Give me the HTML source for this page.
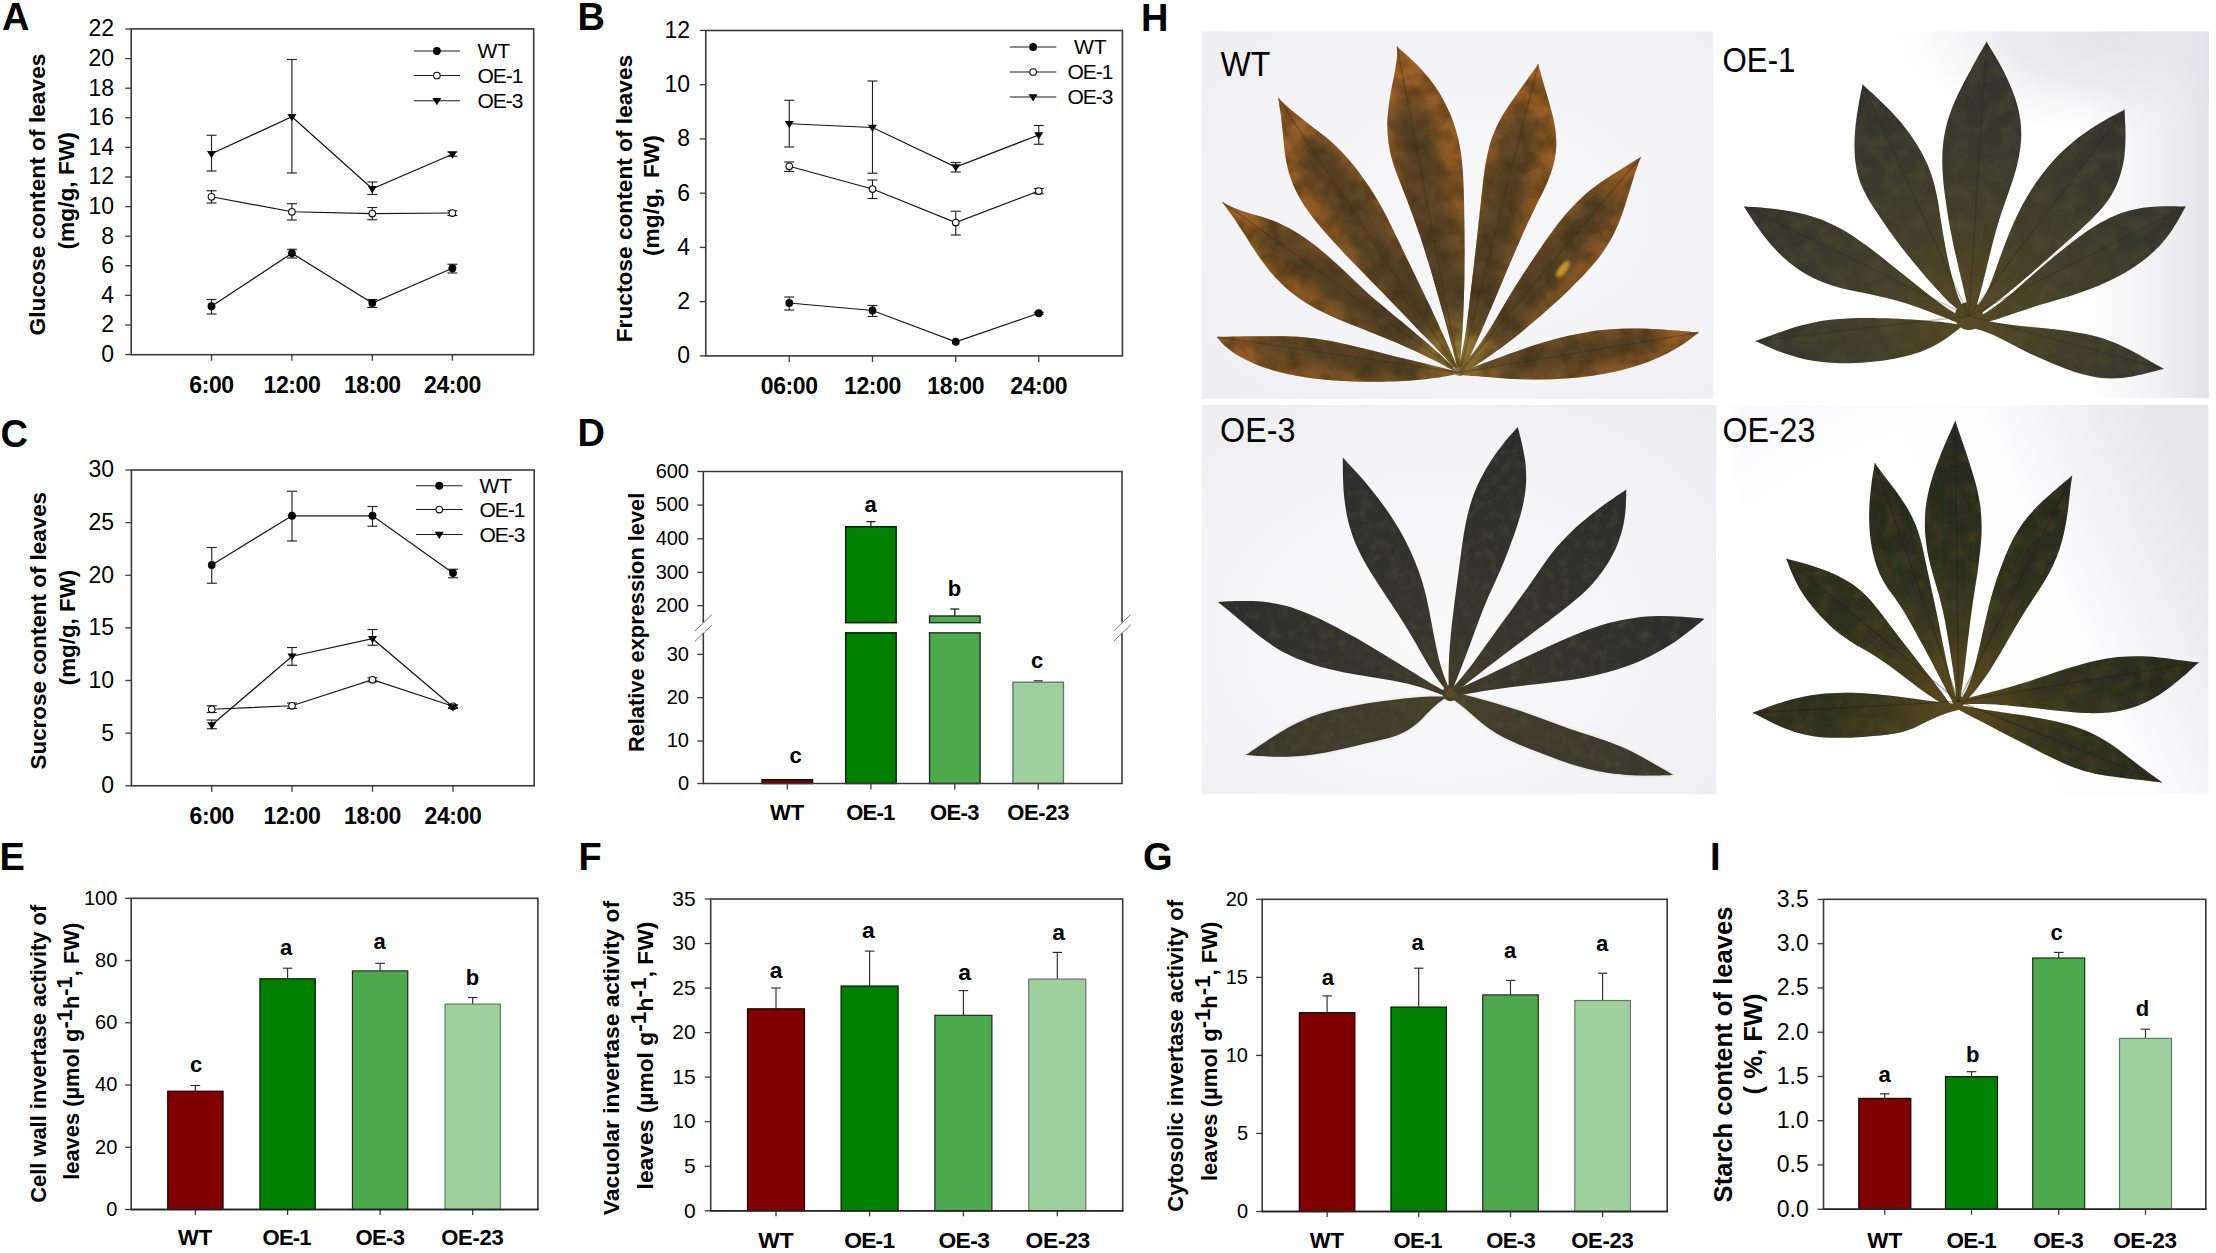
<!DOCTYPE html>
<html lang="en"><head><meta charset="utf-8"><title>Figure</title>
<style>html,body{margin:0;padding:0;background:#fff;}body{width:2216px;height:1253px;overflow:hidden;font-family:"Liberation Sans",sans-serif;}svg{display:block;}text{font-family:"Liberation Sans",sans-serif;}</style>
</head><body>
<svg width="2216" height="1253" viewBox="0 0 2216 1253" font-family="Liberation Sans, sans-serif">
<defs><filter id="tex" x="-2%" y="-2%" width="104%" height="104%" color-interpolation-filters="sRGB">
<feTurbulence type="fractalNoise" baseFrequency="0.05" numOctaves="3" seed="7" result="n"/>
<feColorMatrix in="n" type="matrix" values="0 0 0 0 0  0 0 0 0 0  0 0 0 0 0  1.1 0 0 0 -0.38" result="na"/>
<feFlood flood-color="#33280f" result="dk"/>
<feComposite in="dk" in2="na" operator="in" result="dkn"/>
<feComposite in="dkn" in2="SourceAlpha" operator="in" result="dkm"/>
<feMerge result="m"><feMergeNode in="SourceGraphic"/><feMergeNode in="dkm"/></feMerge>
<feGaussianBlur in="m" stdDeviation="0.7"/>
</filter><filter id="texd" x="-2%" y="-2%" width="104%" height="104%" color-interpolation-filters="sRGB">
<feTurbulence type="fractalNoise" baseFrequency="0.1" numOctaves="3" seed="3" result="n"/>
<feColorMatrix in="n" type="matrix" values="0 0 0 0 0  0 0 0 0 0  0 0 0 0 0  0.8 0 0 0 -0.36" result="na"/>
<feFlood flood-color="#5a5a48" result="dk"/>
<feComposite in="dk" in2="na" operator="in" result="dkn"/>
<feComposite in="dkn" in2="SourceAlpha" operator="in" result="dkm"/>
<feMerge result="m"><feMergeNode in="SourceGraphic"/><feMergeNode in="dkm"/></feMerge>
<feGaussianBlur in="m" stdDeviation="0.7"/>
</filter><filter id="texb" x="-2%" y="-2%" width="104%" height="104%" color-interpolation-filters="sRGB">
<feTurbulence type="fractalNoise" baseFrequency="0.06" numOctaves="3" seed="5" result="n"/>
<feColorMatrix in="n" type="matrix" values="0 0 0 0 0  0 0 0 0 0  0 0 0 0 0  0.8 0 0 0 -0.3" result="na"/>
<feFlood flood-color="#5c5638" result="dk"/>
<feComposite in="dk" in2="na" operator="in" result="dkn"/>
<feComposite in="dkn" in2="SourceAlpha" operator="in" result="dkm"/>
<feMerge result="m"><feMergeNode in="SourceGraphic"/><feMergeNode in="dkm"/></feMerge>
<feGaussianBlur in="m" stdDeviation="0.7"/>
</filter><filter id="texo" x="-2%" y="-2%" width="104%" height="104%" color-interpolation-filters="sRGB">
<feTurbulence type="fractalNoise" baseFrequency="0.06" numOctaves="3" seed="11" result="n"/>
<feColorMatrix in="n" type="matrix" values="0 0 0 0 0  0 0 0 0 0  0 0 0 0 0  0.85 0 0 0 -0.36" result="na"/>
<feFlood flood-color="#5c5220" result="dk"/>
<feComposite in="dk" in2="na" operator="in" result="dkn"/>
<feComposite in="dkn" in2="SourceAlpha" operator="in" result="dkm"/>
<feMerge result="m"><feMergeNode in="SourceGraphic"/><feMergeNode in="dkm"/></feMerge>
<feGaussianBlur in="m" stdDeviation="0.5"/>
</filter><filter id="bl2"><feGaussianBlur stdDeviation="1.6"/></filter>
<radialGradient id="bgWT" cx="0.55" cy="0.5" r="0.8"><stop offset="0" stop-color="#f8f8fa"/><stop offset="0.6" stop-color="#f3f3f6"/><stop offset="1" stop-color="#ececf1"/></radialGradient>
<linearGradient id="bgO1" x1="0.35" y1="0.7" x2="1" y2="0.2"><stop offset="0" stop-color="#ffffff"/><stop offset="0.5" stop-color="#fdfdfe"/><stop offset="0.8" stop-color="#eeeef2"/><stop offset="1" stop-color="#e0e0e6"/></linearGradient>
<radialGradient id="bgO3" cx="0.45" cy="0.6" r="0.8"><stop offset="0" stop-color="#f9f9fa"/><stop offset="0.6" stop-color="#f4f4f6"/><stop offset="1" stop-color="#ebebf0"/></radialGradient>
<linearGradient id="bgO23" x1="0.3" y1="0.6" x2="1" y2="0.35"><stop offset="0" stop-color="#ffffff"/><stop offset="0.55" stop-color="#fcfcfd"/><stop offset="0.82" stop-color="#f0f0f4"/><stop offset="1" stop-color="#e6e6eb"/></linearGradient>
<linearGradient id="bgO23b" x1="0" y1="0" x2="0.4" y2="0.5"><stop offset="0" stop-color="#e6e6f0"/><stop offset="1" stop-color="#e6e6f0" stop-opacity="0"/></linearGradient>
<radialGradient id="o1top" gradientUnits="userSpaceOnUse" cx="2120" cy="31.5" r="1" gradientTransform="translate(2120 31.5) scale(230 105) translate(-2120 -31.5)"><stop offset="0" stop-color="#e3e3e8"/><stop offset="0.5" stop-color="#e8e8ec" stop-opacity="0.8"/><stop offset="1" stop-color="#f4f4f6" stop-opacity="0"/></radialGradient>
<linearGradient id="o1right" x1="0" y1="0" x2="1" y2="0"><stop offset="0" stop-color="#e6e6eb" stop-opacity="0"/><stop offset="0.6" stop-color="#e8e8ed" stop-opacity="0.6"/><stop offset="1" stop-color="#e2e2e8"/></linearGradient>
<linearGradient id="fadeL" x1="0" y1="0" x2="1" y2="0"><stop offset="0" stop-color="#fff"/><stop offset="1" stop-color="#fff" stop-opacity="0"/></linearGradient>
<radialGradient id="gWT" gradientUnits="userSpaceOnUse" cx="1455" cy="345" r="310"><stop offset="0" stop-color="#8f7838"/><stop offset="0.08" stop-color="#86682f"/><stop offset="0.2" stop-color="#7c5627"/><stop offset="0.5" stop-color="#8c5925"/><stop offset="0.8" stop-color="#995f27"/><stop offset="1" stop-color="#a2662a"/></radialGradient>
<radialGradient id="gO1" gradientUnits="userSpaceOnUse" cx="1969" cy="316" r="240"><stop offset="0" stop-color="#55491f"/><stop offset="0.25" stop-color="#484226"/><stop offset="0.55" stop-color="#3d3b2b"/><stop offset="1" stop-color="#33332d"/></radialGradient>
<radialGradient id="gO3" gradientUnits="userSpaceOnUse" cx="1450" cy="693" r="260"><stop offset="0" stop-color="#423d28"/><stop offset="0.3" stop-color="#36352d"/><stop offset="1" stop-color="#2c2d2c"/></radialGradient>
<radialGradient id="gO23" gradientUnits="userSpaceOnUse" cx="1958" cy="701" r="260"><stop offset="0" stop-color="#5a4a1c"/><stop offset="0.22" stop-color="#464020"/><stop offset="0.5" stop-color="#343420"/><stop offset="1" stop-color="#272820"/></radialGradient>
<clipPath id="cWT"><path d="M1452.7 370.2C1449.4 369.4 1439.9 367.1 1432.8 365.4C1425.7 363.7 1418.1 361.9 1410.3 360.0C1402.4 358.1 1394.0 356.0 1385.7 353.9C1377.4 351.9 1368.9 349.7 1360.5 347.7C1352.2 345.7 1343.8 343.6 1335.4 342.0C1327.0 340.3 1318.8 338.9 1310.3 338.0C1301.7 337.0 1293.5 336.6 1284.0 336.3C1274.5 336.0 1264.4 336.2 1253.2 336.3C1242.0 336.4 1222.8 336.8 1216.8 336.9C1218.2 338.5 1221.7 343.1 1225.6 346.4C1229.5 349.7 1233.8 353.3 1240.1 356.8C1246.3 360.2 1254.1 364.0 1263.2 367.2C1272.4 370.3 1283.1 373.3 1294.8 375.5C1306.5 377.8 1319.8 379.5 1333.5 380.5C1347.2 381.6 1363.1 381.9 1377.0 381.8C1390.9 381.7 1405.8 380.9 1417.2 380.0C1428.5 379.1 1437.5 377.7 1444.8 376.5C1452.2 375.3 1458.4 373.3 1461.1 372.7Z"/><path d="M1452.7 366.0C1450.4 363.9 1443.6 357.7 1439.1 353.6C1434.5 349.6 1430.1 345.6 1425.4 341.5C1420.6 337.4 1415.6 333.2 1410.4 328.9C1405.2 324.6 1399.6 320.2 1394.0 315.6C1388.5 311.1 1382.9 306.4 1377.3 301.6C1371.7 296.7 1366.1 291.7 1360.5 286.5C1355.0 281.3 1349.4 275.8 1343.8 270.6C1338.2 265.4 1332.6 260.0 1327.0 255.2C1321.4 250.4 1315.9 245.9 1310.3 241.8C1304.7 237.7 1299.0 234.0 1293.5 230.8C1288.0 227.5 1282.4 224.7 1277.1 222.3C1271.8 220.0 1266.7 218.3 1261.7 216.7C1256.8 215.1 1252.1 214.1 1247.6 212.7C1243.0 211.3 1238.6 209.9 1234.4 208.1C1230.1 206.3 1224.2 203.0 1222.1 202.0C1224.0 204.5 1229.5 211.9 1233.2 217.3C1236.9 222.7 1240.3 228.0 1244.4 234.3C1248.5 240.5 1252.7 247.8 1257.8 254.9C1262.9 262.0 1268.6 270.1 1274.9 276.9C1281.2 283.7 1288.2 290.2 1295.6 295.8C1302.9 301.3 1310.9 306.0 1319.0 310.3C1327.0 314.6 1335.5 318.1 1343.8 321.6C1352.1 325.1 1360.6 328.1 1368.9 331.4C1377.2 334.7 1385.7 338.0 1393.6 341.4C1401.6 344.8 1409.4 348.4 1416.6 351.7C1423.7 355.1 1430.3 358.4 1436.6 361.6C1442.9 364.9 1451.4 369.5 1454.4 371.0Z"/><path d="M1454.4 367.7C1452.1 365.2 1445.2 357.7 1440.5 352.7C1435.8 347.8 1431.1 342.9 1426.1 337.7C1421.1 332.5 1415.9 327.2 1410.3 321.4C1404.8 315.7 1398.9 309.5 1392.8 303.3C1386.7 297.0 1380.2 290.4 1373.8 283.8C1367.4 277.2 1360.8 270.5 1354.4 263.8C1347.9 257.1 1341.3 250.3 1335.1 243.5C1328.8 236.6 1322.4 229.6 1316.8 222.5C1311.2 215.4 1305.7 208.2 1301.4 201.0C1297.1 193.8 1293.6 186.5 1291.0 179.3C1288.3 172.0 1286.9 164.8 1285.6 157.7C1284.3 150.6 1283.9 143.4 1283.2 136.6C1282.4 129.8 1281.9 123.2 1281.1 116.7C1280.2 110.3 1278.7 101.0 1278.2 97.9C1280.7 100.2 1288.0 107.1 1293.2 111.6C1298.4 116.0 1303.9 120.1 1309.3 124.4C1314.8 128.6 1320.5 132.6 1325.8 137.0C1331.0 141.4 1336.1 146.0 1340.9 150.9C1345.6 155.7 1350.1 161.0 1354.3 166.3C1358.5 171.5 1362.4 176.9 1366.2 182.4C1370.0 187.8 1373.5 193.2 1377.0 199.2C1380.6 205.1 1383.9 211.3 1387.3 217.9C1390.7 224.5 1394.0 231.7 1397.4 238.6C1400.8 245.6 1404.1 252.9 1407.5 259.8C1410.8 266.7 1414.2 273.7 1417.4 280.3C1420.6 287.0 1423.9 293.6 1426.8 299.8C1429.8 306.0 1432.6 311.9 1435.2 317.5C1437.8 323.1 1440.0 328.0 1442.4 333.3C1444.9 338.6 1447.2 343.7 1449.7 349.4C1452.3 355.2 1456.4 364.6 1457.7 367.7Z"/><path d="M1456.9 366.0C1456.1 363.0 1453.9 354.0 1452.4 348.2C1450.9 342.5 1449.5 337.2 1447.9 331.3C1446.4 325.5 1444.8 319.7 1443.0 313.3C1441.2 306.8 1439.3 299.8 1437.2 292.7C1435.2 285.5 1433.0 277.9 1430.8 270.3C1428.5 262.7 1426.1 254.8 1423.6 247.0C1421.1 239.3 1418.4 231.4 1415.8 223.8C1413.1 216.2 1410.3 208.7 1407.6 201.5C1404.9 194.4 1402.1 187.7 1399.6 181.0C1397.1 174.3 1394.4 167.9 1392.5 161.2C1390.6 154.4 1389.0 147.5 1388.2 140.4C1387.4 133.3 1387.2 125.9 1387.5 118.6C1387.9 111.3 1389.0 103.7 1390.1 96.5C1391.2 89.4 1393.0 82.0 1394.1 75.7C1395.2 69.4 1396.3 63.7 1396.8 58.8C1397.3 53.9 1397.0 48.6 1397.1 46.5C1399.8 49.0 1408.3 56.1 1413.7 61.5C1419.1 66.9 1424.5 72.5 1429.4 78.8C1434.3 85.1 1439.1 92.0 1443.0 99.2C1447.0 106.4 1450.5 114.2 1453.2 121.8C1456.0 129.4 1457.9 137.2 1459.5 144.7C1461.0 152.3 1461.8 158.9 1462.5 167.1C1463.3 175.4 1463.5 183.3 1463.9 194.2C1464.2 205.2 1464.4 218.8 1464.5 232.8C1464.6 246.8 1464.6 264.2 1464.4 278.5C1464.1 292.7 1463.6 307.1 1463.1 318.5C1462.6 329.9 1462.0 338.5 1461.4 346.8C1460.8 355.0 1460.0 364.2 1459.8 367.7Z"/><path d="M1458.4 367.7C1459.1 364.9 1461.1 356.7 1462.3 350.9C1463.5 345.2 1464.5 340.0 1465.6 333.1C1466.6 326.3 1467.5 318.7 1468.6 309.9C1469.7 301.0 1470.9 290.5 1472.2 280.0C1473.4 269.6 1474.7 258.0 1476.0 247.0C1477.2 236.0 1478.5 224.6 1479.6 214.1C1480.8 203.5 1481.8 193.0 1482.9 183.7C1484.1 174.4 1485.1 165.9 1486.7 158.1C1488.2 150.4 1489.9 143.8 1492.2 137.2C1494.6 130.6 1497.4 124.7 1500.7 118.7C1504.0 112.6 1508.0 106.8 1512.1 100.8C1516.2 94.8 1520.7 88.7 1525.1 82.6C1529.4 76.5 1536.1 67.1 1538.3 64.0C1539.2 67.6 1542.2 78.5 1544.2 85.5C1546.2 92.6 1548.4 99.7 1550.2 106.5C1552.0 113.3 1553.9 119.9 1554.9 126.5C1555.9 133.1 1556.5 139.6 1556.3 146.1C1556.0 152.6 1554.9 159.2 1553.3 165.6C1551.6 172.0 1549.1 178.2 1546.4 184.5C1543.8 190.8 1540.4 196.7 1537.2 203.4C1534.0 210.0 1530.5 216.9 1527.2 224.2C1523.8 231.5 1520.4 239.3 1517.1 247.0C1513.7 254.8 1510.4 262.7 1507.0 270.5C1503.7 278.3 1500.4 286.1 1497.1 293.9C1493.8 301.6 1490.6 309.3 1487.2 317.2C1483.9 325.2 1480.4 333.2 1476.8 341.6C1473.1 350.0 1467.1 363.4 1465.1 367.7Z"/><path d="M1460.1 369.4C1462.9 365.8 1472.0 354.6 1477.0 347.8C1482.0 341.0 1486.1 334.7 1490.2 328.4C1494.2 322.1 1497.4 316.2 1501.2 309.9C1504.9 303.6 1508.7 297.1 1512.8 290.5C1516.9 283.9 1521.2 277.2 1525.6 270.5C1529.9 263.8 1534.4 257.1 1539.0 250.4C1543.6 243.7 1548.2 236.9 1553.0 230.5C1557.9 224.0 1562.8 217.5 1568.1 211.6C1573.4 205.7 1578.8 200.1 1584.6 195.0C1590.3 189.9 1596.5 185.4 1602.7 181.0C1608.9 176.6 1615.4 172.7 1621.8 168.7C1628.2 164.7 1637.7 158.9 1640.9 157.0C1639.8 160.0 1636.5 168.8 1634.5 175.1C1632.4 181.4 1630.5 187.9 1628.4 194.7C1626.2 201.4 1624.2 208.7 1621.6 215.5C1619.0 222.4 1616.1 229.5 1612.7 236.0C1609.3 242.5 1605.4 248.7 1601.0 254.7C1596.6 260.7 1591.7 266.4 1586.5 272.1C1581.4 277.8 1575.7 283.3 1570.0 288.9C1564.3 294.5 1558.2 300.1 1552.2 305.6C1546.1 311.1 1540.0 316.5 1533.7 321.8C1527.5 327.1 1521.1 332.4 1514.7 337.4C1508.3 342.5 1501.4 347.6 1495.2 352.1C1488.9 356.6 1482.8 360.8 1477.2 364.6C1471.6 368.3 1464.4 372.8 1461.8 374.4Z"/><path d="M1460.1 371.1C1462.3 370.4 1468.4 368.6 1473.3 366.9C1478.2 365.3 1483.5 363.4 1489.5 361.2C1495.6 359.0 1502.4 356.3 1509.5 353.7C1516.7 351.1 1524.6 348.3 1532.6 345.7C1540.6 343.2 1549.0 340.6 1557.3 338.4C1565.6 336.3 1574.1 334.3 1582.5 332.9C1590.8 331.4 1599.2 330.3 1607.6 329.6C1616.0 328.9 1624.4 328.6 1632.7 328.6C1641.0 328.5 1649.5 328.9 1657.3 329.3C1665.1 329.7 1672.6 330.3 1679.5 330.8C1686.5 331.4 1695.7 332.2 1698.9 332.5C1696.1 334.5 1688.1 340.8 1682.2 344.7C1676.2 348.5 1670.0 352.2 1663.0 355.5C1656.1 358.9 1648.4 362.0 1640.6 364.6C1632.7 367.3 1624.3 369.6 1616.0 371.5C1607.7 373.4 1599.2 374.8 1590.8 376.0C1582.5 377.2 1574.1 378.0 1565.7 378.6C1557.3 379.2 1548.9 379.4 1540.6 379.5C1532.2 379.5 1523.7 379.3 1515.7 379.0C1507.8 378.6 1499.7 378.0 1492.7 377.5C1485.8 377.1 1479.5 376.5 1473.9 376.1C1468.4 375.7 1461.7 375.4 1459.3 375.2Z"/></clipPath><filter id="cWTb" x="-20%" y="-20%" width="140%" height="140%"><feGaussianBlur stdDeviation="8"/></filter><clipPath id="cO23"><path d="M1961.5 704.6C1957.8 704.2 1946.7 703.0 1939.5 702.1C1932.2 701.2 1925.4 700.2 1918.0 699.2C1910.6 698.2 1903.2 697.1 1895.3 696.2C1887.3 695.3 1878.8 694.3 1870.3 693.7C1861.8 693.2 1852.8 692.7 1844.3 692.8C1835.7 692.9 1827.0 693.3 1818.9 694.2C1810.7 695.2 1803.0 696.7 1795.4 698.5C1787.9 700.3 1780.8 702.7 1773.7 705.1C1766.6 707.5 1756.3 711.5 1752.8 712.8C1755.5 714.2 1763.3 718.3 1768.7 720.9C1774.0 723.5 1779.3 726.2 1785.1 728.4C1790.8 730.6 1796.7 732.7 1803.1 734.2C1809.6 735.7 1816.7 736.8 1823.9 737.4C1831.1 738.0 1839.2 737.9 1846.6 737.7C1854.0 737.6 1861.6 736.9 1868.4 736.4C1875.1 735.9 1881.4 735.5 1887.1 734.7C1892.8 733.9 1897.9 733.2 1902.9 731.8C1907.8 730.5 1912.2 728.7 1916.6 726.8C1920.9 724.9 1925.0 722.5 1929.1 720.6C1933.3 718.7 1937.3 716.8 1941.3 715.3C1945.3 713.7 1949.3 712.5 1953.2 711.3C1957.1 710.1 1962.8 708.5 1964.7 707.9Z"/><path d="M1953.3 707.9C1952.0 706.2 1948.2 700.9 1945.5 697.4C1942.8 693.8 1940.3 690.4 1937.3 686.5C1934.4 682.7 1931.3 678.6 1927.9 674.3C1924.5 669.9 1920.9 665.1 1917.1 660.3C1913.3 655.4 1909.3 650.3 1905.2 645.0C1901.2 639.8 1896.9 634.2 1892.7 628.8C1888.6 623.3 1884.4 617.5 1880.4 612.5C1876.5 607.4 1872.8 602.6 1868.9 598.4C1865.0 594.3 1861.3 590.8 1856.8 587.4C1852.3 584.0 1847.4 581.0 1842.0 578.1C1836.6 575.2 1830.4 572.5 1824.3 570.1C1818.2 567.7 1811.7 565.6 1805.4 563.8C1799.0 561.9 1789.4 559.6 1786.2 558.8C1787.1 561.0 1789.7 568.0 1791.5 572.3C1793.4 576.6 1795.2 580.7 1797.3 584.6C1799.3 588.4 1801.4 591.8 1803.9 595.5C1806.5 599.2 1809.2 602.7 1812.4 606.7C1815.6 610.6 1819.3 615.0 1823.3 619.0C1827.2 623.1 1831.7 627.4 1836.1 631.1C1840.5 634.8 1845.2 638.0 1849.7 641.0C1854.2 644.0 1858.7 646.4 1863.2 649.0C1867.6 651.6 1872.0 654.0 1876.5 656.9C1881.0 659.8 1885.5 662.9 1890.2 666.3C1894.9 669.7 1899.8 673.6 1904.7 677.3C1909.6 681.1 1914.6 685.1 1919.7 688.8C1924.8 692.5 1930.0 696.1 1935.3 699.5C1940.6 703.0 1948.9 707.9 1951.6 709.5Z"/><path d="M1953.3 703.0C1952.2 701.0 1948.9 695.1 1946.6 690.7C1944.3 686.4 1942.0 681.9 1939.5 677.0C1936.9 672.1 1934.2 666.8 1931.3 661.3C1928.4 655.8 1925.2 649.8 1922.1 644.0C1918.9 638.2 1915.6 632.0 1912.5 626.4C1909.3 620.8 1906.1 615.2 1903.1 610.3C1900.0 605.5 1897.1 601.3 1894.2 597.1C1891.3 592.9 1888.3 589.5 1885.7 585.0C1883.0 580.6 1880.4 575.9 1878.3 570.5C1876.1 565.0 1874.2 558.7 1872.8 552.2C1871.3 545.6 1870.3 538.4 1869.7 531.1C1869.1 523.9 1869.0 516.1 1869.3 508.5C1869.6 500.8 1870.4 493.0 1871.3 485.5C1872.2 477.9 1874.2 466.8 1874.8 463.0C1876.6 465.5 1882.2 473.0 1885.9 478.0C1889.7 483.0 1893.7 488.0 1897.3 493.1C1900.9 498.2 1904.5 503.3 1907.6 508.6C1910.6 513.9 1913.3 519.2 1915.6 524.7C1917.8 530.2 1919.5 535.8 1921.0 541.6C1922.6 547.4 1923.8 553.6 1925.1 559.6C1926.4 565.6 1927.6 571.7 1928.9 577.6C1930.2 583.6 1931.5 589.2 1932.8 595.1C1934.0 600.9 1935.3 606.6 1936.5 612.6C1937.8 618.6 1939.0 624.9 1940.3 631.2C1941.6 637.5 1942.9 644.2 1944.2 650.5C1945.6 656.9 1946.8 663.4 1948.3 669.5C1949.7 675.5 1951.2 681.4 1952.8 686.9C1954.5 692.5 1957.3 700.3 1958.2 703.0Z"/><path d="M1956.5 701.4C1956.3 698.8 1955.7 691.2 1955.1 685.8C1954.5 680.4 1953.7 674.8 1952.9 668.9C1952.0 663.0 1951.0 656.7 1950.0 650.4C1948.9 644.1 1947.9 637.5 1946.8 631.2C1945.7 624.9 1944.7 618.6 1943.3 612.4C1942.0 606.2 1940.4 600.2 1938.7 593.9C1936.9 587.5 1934.7 581.1 1932.9 574.3C1931.0 567.4 1929.0 560.2 1927.7 553.0C1926.4 545.8 1925.4 538.3 1925.0 530.8C1924.7 523.4 1924.8 516.0 1925.6 508.5C1926.4 501.1 1927.9 493.6 1929.8 486.2C1931.7 478.7 1934.3 471.3 1937.0 463.9C1939.7 456.6 1942.8 449.3 1945.9 442.1C1948.9 434.9 1953.8 424.3 1955.3 420.7C1956.5 424.3 1960.1 434.9 1962.5 442.1C1964.9 449.3 1967.5 456.6 1969.8 463.9C1972.1 471.2 1974.5 478.7 1976.3 486.0C1978.0 493.2 1979.6 500.4 1980.5 507.6C1981.3 514.8 1981.7 521.9 1981.6 529.2C1981.6 536.6 1980.9 544.1 1980.1 551.6C1979.4 559.1 1978.2 566.7 1977.2 574.2C1976.1 581.7 1974.8 589.0 1973.7 596.6C1972.6 604.2 1971.5 612.0 1970.4 619.9C1969.4 627.7 1968.5 636.0 1967.5 643.8C1966.6 651.5 1965.7 659.4 1964.9 666.4C1964.0 673.3 1963.2 679.7 1962.4 685.5C1961.5 691.3 1960.3 698.7 1959.9 701.4Z"/><path d="M1960.7 699.7C1961.8 697.8 1965.2 692.6 1967.2 688.3C1969.1 684.0 1970.8 679.4 1972.5 674.1C1974.2 668.7 1975.6 662.5 1977.2 656.2C1978.8 649.8 1980.4 642.7 1981.9 635.9C1983.5 629.2 1985.1 622.1 1986.6 615.7C1988.2 609.2 1989.6 603.1 1991.2 597.3C1992.8 591.4 1994.4 586.2 1996.2 580.6C1998.0 575.1 1999.9 569.7 2002.1 564.2C2004.2 558.6 2006.4 552.9 2009.0 547.4C2011.6 541.9 2014.4 536.3 2017.7 531.0C2021.0 525.7 2024.8 520.5 2028.9 515.6C2033.0 510.6 2037.7 505.8 2042.4 501.3C2047.2 496.7 2052.3 492.4 2057.2 488.2C2062.1 483.9 2069.6 477.9 2072.1 475.8C2071.7 478.7 2070.6 487.5 2069.9 493.4C2069.2 499.4 2068.5 505.6 2067.7 511.7C2066.8 517.9 2065.9 524.2 2064.6 530.1C2063.4 536.1 2061.9 542.0 2060.0 547.7C2058.2 553.4 2056.1 558.8 2053.6 564.2C2051.1 569.5 2048.3 574.7 2045.2 579.9C2042.2 585.2 2038.7 590.3 2035.3 595.5C2031.9 600.8 2028.3 606.1 2024.9 611.6C2021.5 617.0 2018.1 622.6 2014.8 628.2C2011.4 633.8 2008.2 639.6 2004.9 645.2C2001.6 650.8 1998.4 656.5 1995.1 661.9C1991.8 667.3 1988.5 672.6 1985.1 677.6C1981.6 682.6 1978.0 687.4 1974.2 691.9C1970.4 696.4 1964.3 702.5 1962.4 704.6Z"/><path d="M1960.7 699.7C1963.5 699.0 1971.5 697.0 1977.6 695.5C1983.7 694.0 1990.2 692.4 1997.2 690.5C2004.3 688.6 2012.1 686.5 2019.9 684.1C2027.8 681.8 2036.1 678.9 2044.2 676.3C2052.3 673.6 2060.5 670.5 2068.7 668.0C2076.9 665.5 2085.1 663.0 2093.3 661.2C2101.5 659.3 2109.7 657.9 2117.8 657.0C2125.9 656.2 2134.2 656.0 2141.9 656.2C2149.5 656.3 2157.0 657.2 2163.8 657.9C2170.6 658.6 2176.6 659.7 2182.5 660.4C2188.3 661.2 2196.1 662.1 2198.8 662.4C2196.2 664.8 2188.3 672.1 2183.0 676.6C2177.6 681.2 2172.4 685.7 2166.9 689.6C2161.4 693.6 2156.0 697.2 2150.0 700.3C2144.1 703.4 2137.9 706.1 2131.1 708.1C2124.3 710.2 2116.8 711.7 2109.1 712.5C2101.5 713.3 2093.2 713.4 2085.1 713.1C2077.0 712.9 2068.7 711.9 2060.5 711.1C2052.4 710.3 2044.1 709.1 2036.0 708.3C2027.9 707.4 2019.7 706.5 2012.2 705.9C2004.7 705.2 1997.5 704.6 1991.1 704.3C1984.7 704.0 1979.3 703.9 1973.9 704.0C1968.6 704.0 1961.6 704.5 1959.1 704.6Z"/><path d="M1957.5 704.6C1960.4 705.2 1968.4 706.8 1974.8 707.9C1981.2 709.0 1988.3 710.1 1995.8 711.2C2003.3 712.4 2011.6 713.5 2019.6 714.8C2027.7 716.0 2036.1 717.3 2044.2 718.9C2052.3 720.5 2060.5 722.1 2068.2 724.4C2075.9 726.6 2083.4 729.3 2090.2 732.4C2097.0 735.5 2103.1 739.2 2109.1 743.1C2115.1 746.9 2120.5 751.2 2126.2 755.5C2132.0 759.8 2137.6 764.3 2143.6 768.8C2149.6 773.2 2158.9 780.1 2162.0 782.4C2158.4 782.0 2147.9 780.8 2140.5 779.9C2133.2 779.1 2125.4 778.3 2117.8 777.3C2110.3 776.3 2102.4 775.3 2095.1 773.7C2087.8 772.1 2080.8 770.1 2073.9 767.6C2067.1 765.1 2060.6 762.0 2054.0 758.8C2047.4 755.7 2040.9 752.2 2034.4 748.9C2027.9 745.6 2021.3 742.3 2014.9 739.0C2008.6 735.7 2002.3 732.5 1996.3 729.4C1990.4 726.3 1984.6 723.3 1979.3 720.6C1974.1 717.9 1969.3 715.4 1964.8 713.0C1960.4 710.6 1954.6 707.4 1952.5 706.3Z"/></clipPath><filter id="cO23b" x="-20%" y="-20%" width="140%" height="140%"><feGaussianBlur stdDeviation="10"/></filter></defs>
<rect x="1202.0" y="31.5" width="511.5" height="367.2" fill="url(#bgWT)"/>
<g fill="url(#gWT)" filter="url(#tex)">
<path d="M1452.7 370.2C1449.4 369.4 1439.9 367.1 1432.8 365.4C1425.7 363.7 1418.1 361.9 1410.3 360.0C1402.4 358.1 1394.0 356.0 1385.7 353.9C1377.4 351.9 1368.9 349.7 1360.5 347.7C1352.2 345.7 1343.8 343.6 1335.4 342.0C1327.0 340.3 1318.8 338.9 1310.3 338.0C1301.7 337.0 1293.5 336.6 1284.0 336.3C1274.5 336.0 1264.4 336.2 1253.2 336.3C1242.0 336.4 1222.8 336.8 1216.8 336.9C1218.2 338.5 1221.7 343.1 1225.6 346.4C1229.5 349.7 1233.8 353.3 1240.1 356.8C1246.3 360.2 1254.1 364.0 1263.2 367.2C1272.4 370.3 1283.1 373.3 1294.8 375.5C1306.5 377.8 1319.8 379.5 1333.5 380.5C1347.2 381.6 1363.1 381.9 1377.0 381.8C1390.9 381.7 1405.8 380.9 1417.2 380.0C1428.5 379.1 1437.5 377.7 1444.8 376.5C1452.2 375.3 1458.4 373.3 1461.1 372.7Z"/>
<path d="M1452.7 366.0C1450.4 363.9 1443.6 357.7 1439.1 353.6C1434.5 349.6 1430.1 345.6 1425.4 341.5C1420.6 337.4 1415.6 333.2 1410.4 328.9C1405.2 324.6 1399.6 320.2 1394.0 315.6C1388.5 311.1 1382.9 306.4 1377.3 301.6C1371.7 296.7 1366.1 291.7 1360.5 286.5C1355.0 281.3 1349.4 275.8 1343.8 270.6C1338.2 265.4 1332.6 260.0 1327.0 255.2C1321.4 250.4 1315.9 245.9 1310.3 241.8C1304.7 237.7 1299.0 234.0 1293.5 230.8C1288.0 227.5 1282.4 224.7 1277.1 222.3C1271.8 220.0 1266.7 218.3 1261.7 216.7C1256.8 215.1 1252.1 214.1 1247.6 212.7C1243.0 211.3 1238.6 209.9 1234.4 208.1C1230.1 206.3 1224.2 203.0 1222.1 202.0C1224.0 204.5 1229.5 211.9 1233.2 217.3C1236.9 222.7 1240.3 228.0 1244.4 234.3C1248.5 240.5 1252.7 247.8 1257.8 254.9C1262.9 262.0 1268.6 270.1 1274.9 276.9C1281.2 283.7 1288.2 290.2 1295.6 295.8C1302.9 301.3 1310.9 306.0 1319.0 310.3C1327.0 314.6 1335.5 318.1 1343.8 321.6C1352.1 325.1 1360.6 328.1 1368.9 331.4C1377.2 334.7 1385.7 338.0 1393.6 341.4C1401.6 344.8 1409.4 348.4 1416.6 351.7C1423.7 355.1 1430.3 358.4 1436.6 361.6C1442.9 364.9 1451.4 369.5 1454.4 371.0Z"/>
<path d="M1454.4 367.7C1452.1 365.2 1445.2 357.7 1440.5 352.7C1435.8 347.8 1431.1 342.9 1426.1 337.7C1421.1 332.5 1415.9 327.2 1410.3 321.4C1404.8 315.7 1398.9 309.5 1392.8 303.3C1386.7 297.0 1380.2 290.4 1373.8 283.8C1367.4 277.2 1360.8 270.5 1354.4 263.8C1347.9 257.1 1341.3 250.3 1335.1 243.5C1328.8 236.6 1322.4 229.6 1316.8 222.5C1311.2 215.4 1305.7 208.2 1301.4 201.0C1297.1 193.8 1293.6 186.5 1291.0 179.3C1288.3 172.0 1286.9 164.8 1285.6 157.7C1284.3 150.6 1283.9 143.4 1283.2 136.6C1282.4 129.8 1281.9 123.2 1281.1 116.7C1280.2 110.3 1278.7 101.0 1278.2 97.9C1280.7 100.2 1288.0 107.1 1293.2 111.6C1298.4 116.0 1303.9 120.1 1309.3 124.4C1314.8 128.6 1320.5 132.6 1325.8 137.0C1331.0 141.4 1336.1 146.0 1340.9 150.9C1345.6 155.7 1350.1 161.0 1354.3 166.3C1358.5 171.5 1362.4 176.9 1366.2 182.4C1370.0 187.8 1373.5 193.2 1377.0 199.2C1380.6 205.1 1383.9 211.3 1387.3 217.9C1390.7 224.5 1394.0 231.7 1397.4 238.6C1400.8 245.6 1404.1 252.9 1407.5 259.8C1410.8 266.7 1414.2 273.7 1417.4 280.3C1420.6 287.0 1423.9 293.6 1426.8 299.8C1429.8 306.0 1432.6 311.9 1435.2 317.5C1437.8 323.1 1440.0 328.0 1442.4 333.3C1444.9 338.6 1447.2 343.7 1449.7 349.4C1452.3 355.2 1456.4 364.6 1457.7 367.7Z"/>
<path d="M1456.9 366.0C1456.1 363.0 1453.9 354.0 1452.4 348.2C1450.9 342.5 1449.5 337.2 1447.9 331.3C1446.4 325.5 1444.8 319.7 1443.0 313.3C1441.2 306.8 1439.3 299.8 1437.2 292.7C1435.2 285.5 1433.0 277.9 1430.8 270.3C1428.5 262.7 1426.1 254.8 1423.6 247.0C1421.1 239.3 1418.4 231.4 1415.8 223.8C1413.1 216.2 1410.3 208.7 1407.6 201.5C1404.9 194.4 1402.1 187.7 1399.6 181.0C1397.1 174.3 1394.4 167.9 1392.5 161.2C1390.6 154.4 1389.0 147.5 1388.2 140.4C1387.4 133.3 1387.2 125.9 1387.5 118.6C1387.9 111.3 1389.0 103.7 1390.1 96.5C1391.2 89.4 1393.0 82.0 1394.1 75.7C1395.2 69.4 1396.3 63.7 1396.8 58.8C1397.3 53.9 1397.0 48.6 1397.1 46.5C1399.8 49.0 1408.3 56.1 1413.7 61.5C1419.1 66.9 1424.5 72.5 1429.4 78.8C1434.3 85.1 1439.1 92.0 1443.0 99.2C1447.0 106.4 1450.5 114.2 1453.2 121.8C1456.0 129.4 1457.9 137.2 1459.5 144.7C1461.0 152.3 1461.8 158.9 1462.5 167.1C1463.3 175.4 1463.5 183.3 1463.9 194.2C1464.2 205.2 1464.4 218.8 1464.5 232.8C1464.6 246.8 1464.6 264.2 1464.4 278.5C1464.1 292.7 1463.6 307.1 1463.1 318.5C1462.6 329.9 1462.0 338.5 1461.4 346.8C1460.8 355.0 1460.0 364.2 1459.8 367.7Z"/>
<path d="M1458.4 367.7C1459.1 364.9 1461.1 356.7 1462.3 350.9C1463.5 345.2 1464.5 340.0 1465.6 333.1C1466.6 326.3 1467.5 318.7 1468.6 309.9C1469.7 301.0 1470.9 290.5 1472.2 280.0C1473.4 269.6 1474.7 258.0 1476.0 247.0C1477.2 236.0 1478.5 224.6 1479.6 214.1C1480.8 203.5 1481.8 193.0 1482.9 183.7C1484.1 174.4 1485.1 165.9 1486.7 158.1C1488.2 150.4 1489.9 143.8 1492.2 137.2C1494.6 130.6 1497.4 124.7 1500.7 118.7C1504.0 112.6 1508.0 106.8 1512.1 100.8C1516.2 94.8 1520.7 88.7 1525.1 82.6C1529.4 76.5 1536.1 67.1 1538.3 64.0C1539.2 67.6 1542.2 78.5 1544.2 85.5C1546.2 92.6 1548.4 99.7 1550.2 106.5C1552.0 113.3 1553.9 119.9 1554.9 126.5C1555.9 133.1 1556.5 139.6 1556.3 146.1C1556.0 152.6 1554.9 159.2 1553.3 165.6C1551.6 172.0 1549.1 178.2 1546.4 184.5C1543.8 190.8 1540.4 196.7 1537.2 203.4C1534.0 210.0 1530.5 216.9 1527.2 224.2C1523.8 231.5 1520.4 239.3 1517.1 247.0C1513.7 254.8 1510.4 262.7 1507.0 270.5C1503.7 278.3 1500.4 286.1 1497.1 293.9C1493.8 301.6 1490.6 309.3 1487.2 317.2C1483.9 325.2 1480.4 333.2 1476.8 341.6C1473.1 350.0 1467.1 363.4 1465.1 367.7Z"/>
<path d="M1460.1 369.4C1462.9 365.8 1472.0 354.6 1477.0 347.8C1482.0 341.0 1486.1 334.7 1490.2 328.4C1494.2 322.1 1497.4 316.2 1501.2 309.9C1504.9 303.6 1508.7 297.1 1512.8 290.5C1516.9 283.9 1521.2 277.2 1525.6 270.5C1529.9 263.8 1534.4 257.1 1539.0 250.4C1543.6 243.7 1548.2 236.9 1553.0 230.5C1557.9 224.0 1562.8 217.5 1568.1 211.6C1573.4 205.7 1578.8 200.1 1584.6 195.0C1590.3 189.9 1596.5 185.4 1602.7 181.0C1608.9 176.6 1615.4 172.7 1621.8 168.7C1628.2 164.7 1637.7 158.9 1640.9 157.0C1639.8 160.0 1636.5 168.8 1634.5 175.1C1632.4 181.4 1630.5 187.9 1628.4 194.7C1626.2 201.4 1624.2 208.7 1621.6 215.5C1619.0 222.4 1616.1 229.5 1612.7 236.0C1609.3 242.5 1605.4 248.7 1601.0 254.7C1596.6 260.7 1591.7 266.4 1586.5 272.1C1581.4 277.8 1575.7 283.3 1570.0 288.9C1564.3 294.5 1558.2 300.1 1552.2 305.6C1546.1 311.1 1540.0 316.5 1533.7 321.8C1527.5 327.1 1521.1 332.4 1514.7 337.4C1508.3 342.5 1501.4 347.6 1495.2 352.1C1488.9 356.6 1482.8 360.8 1477.2 364.6C1471.6 368.3 1464.4 372.8 1461.8 374.4Z"/>
<path d="M1460.1 371.1C1462.3 370.4 1468.4 368.6 1473.3 366.9C1478.2 365.3 1483.5 363.4 1489.5 361.2C1495.6 359.0 1502.4 356.3 1509.5 353.7C1516.7 351.1 1524.6 348.3 1532.6 345.7C1540.6 343.2 1549.0 340.6 1557.3 338.4C1565.6 336.3 1574.1 334.3 1582.5 332.9C1590.8 331.4 1599.2 330.3 1607.6 329.6C1616.0 328.9 1624.4 328.6 1632.7 328.6C1641.0 328.5 1649.5 328.9 1657.3 329.3C1665.1 329.7 1672.6 330.3 1679.5 330.8C1686.5 331.4 1695.7 332.2 1698.9 332.5C1696.1 334.5 1688.1 340.8 1682.2 344.7C1676.2 348.5 1670.0 352.2 1663.0 355.5C1656.1 358.9 1648.4 362.0 1640.6 364.6C1632.7 367.3 1624.3 369.6 1616.0 371.5C1607.7 373.4 1599.2 374.8 1590.8 376.0C1582.5 377.2 1574.1 378.0 1565.7 378.6C1557.3 379.2 1548.9 379.4 1540.6 379.5C1532.2 379.5 1523.7 379.3 1515.7 379.0C1507.8 378.6 1499.7 378.0 1492.7 377.5C1485.8 377.1 1479.5 376.5 1473.9 376.1C1468.4 375.7 1461.7 375.4 1459.3 375.2Z"/>

<g clip-path="url(#cWT)"><g filter="url(#cWTb)" stroke="#3d3826" stroke-opacity="0.62" stroke-linecap="round" fill="none">
<line x1="1406.1" y1="364.7" x2="1270.2" y2="344.7" stroke-width="29.4"/>
<line x1="1407.3" y1="335.0" x2="1274.4" y2="239.5" stroke-width="35.1"/>
<line x1="1419.6" y1="312.1" x2="1318.1" y2="158.3" stroke-width="39.5"/>
<line x1="1445.8" y1="300.8" x2="1410.8" y2="118.2" stroke-width="39.8"/>
<line x1="1476.8" y1="304.6" x2="1520.9" y2="131.8" stroke-width="38.2"/>
<line x1="1499.4" y1="325.1" x2="1601.0" y2="204.4" stroke-width="33.8"/>
<line x1="1512.2" y1="363.7" x2="1646.3" y2="341.3" stroke-width="29.1"/>
</g></g>
</g>
<line x1="1459.5" y1="372.5" x2="1216.8" y2="336.9" stroke="#3e2c12" stroke-opacity="0.35" stroke-width="1.4"/>
<line x1="1459.5" y1="372.5" x2="1222.1" y2="202.0" stroke="#3e2c12" stroke-opacity="0.35" stroke-width="1.4"/>
<line x1="1459.5" y1="372.5" x2="1278.2" y2="97.9" stroke="#3e2c12" stroke-opacity="0.35" stroke-width="1.4"/>
<line x1="1459.5" y1="372.5" x2="1397.1" y2="46.5" stroke="#3e2c12" stroke-opacity="0.35" stroke-width="1.4"/>
<line x1="1459.5" y1="372.5" x2="1538.3" y2="64.0" stroke="#3e2c12" stroke-opacity="0.35" stroke-width="1.4"/>
<line x1="1459.5" y1="372.5" x2="1640.9" y2="157.0" stroke="#3e2c12" stroke-opacity="0.35" stroke-width="1.4"/>
<line x1="1459.5" y1="372.5" x2="1698.9" y2="332.5" stroke="#3e2c12" stroke-opacity="0.35" stroke-width="1.4"/>
<ellipse cx="1459.5" cy="371" rx="6" ry="5" fill="#6a5426" opacity="0.7"/>
<ellipse cx="1563" cy="269" rx="10" ry="4" transform="rotate(-52 1563 269)" fill="#dca432" opacity="0.85" filter="url(#bl2)"/>
<rect x="1713.5" y="31.5" width="495.3" height="366.6" fill="#fefefe"/>
<rect x="1880" y="31.5" width="328.8" height="120" fill="url(#o1top)"/>
<rect x="2090" y="31.5" width="118.8" height="366.6" fill="url(#o1right)"/>
<g fill="url(#gO1)" filter="url(#texb)">
<path d="M1957.5 324.3C1954.6 323.9 1946.5 322.6 1940.1 321.8C1933.6 321.1 1926.8 320.5 1918.6 319.9C1910.4 319.3 1900.8 318.8 1891.0 318.4C1881.1 318.1 1869.9 317.7 1859.5 318.0C1849.0 318.3 1838.2 318.8 1828.4 320.1C1818.6 321.4 1809.4 323.4 1800.8 325.6C1792.3 327.8 1784.7 330.6 1777.1 333.2C1769.6 335.8 1759.0 339.8 1755.4 341.1C1759.4 342.9 1770.9 348.4 1779.3 351.5C1787.7 354.5 1796.4 357.5 1805.8 359.4C1815.2 361.3 1825.4 362.5 1835.6 363.0C1845.9 363.5 1856.9 363.0 1867.0 362.2C1877.2 361.4 1887.6 360.0 1896.6 358.2C1905.6 356.5 1913.9 354.2 1920.9 351.7C1928.0 349.2 1933.9 346.1 1939.0 343.1C1944.2 340.2 1948.3 337.0 1952.1 334.1C1956.0 331.3 1960.7 327.3 1962.4 325.9Z"/>
<path d="M1960.7 316.1C1959.1 315.2 1954.6 312.9 1951.0 310.7C1947.4 308.4 1943.5 305.7 1939.0 302.5C1934.6 299.3 1929.5 295.2 1924.4 291.2C1919.3 287.2 1913.8 282.8 1908.4 278.5C1903.0 274.1 1897.5 269.7 1892.0 265.4C1886.5 261.0 1881.1 256.6 1875.4 252.3C1869.8 247.9 1864.1 243.5 1857.9 239.4C1851.8 235.3 1845.5 231.1 1838.6 227.6C1831.8 224.0 1824.5 220.8 1816.9 218.1C1809.4 215.5 1801.2 213.4 1793.2 211.8C1785.1 210.1 1776.7 209.1 1768.5 208.2C1760.2 207.3 1748.0 206.7 1743.9 206.5C1745.9 209.4 1751.5 218.5 1755.6 224.4C1759.7 230.2 1763.9 236.1 1768.6 241.7C1773.3 247.3 1778.4 252.9 1784.0 257.9C1789.6 262.9 1795.8 267.8 1802.4 271.9C1809.0 276.0 1816.3 279.5 1823.6 282.4C1830.9 285.4 1838.6 287.4 1846.2 289.3C1853.7 291.2 1861.4 292.4 1868.9 294.0C1876.3 295.6 1883.7 297.1 1890.9 299.0C1898.0 300.8 1905.1 303.0 1911.7 305.3C1918.4 307.5 1925.0 310.0 1930.9 312.2C1936.8 314.4 1942.2 316.6 1947.1 318.6C1952.1 320.7 1958.5 323.3 1960.7 324.3Z"/>
<path d="M1962.4 312.8C1961.0 311.8 1957.4 309.4 1954.4 306.8C1951.4 304.2 1948.2 301.2 1944.5 297.4C1940.8 293.6 1936.5 288.9 1932.1 284.0C1927.7 279.1 1922.8 273.5 1918.1 267.8C1913.3 262.1 1908.3 256.0 1903.6 249.9C1898.8 243.8 1893.9 237.2 1889.5 231.1C1885.2 225.0 1880.9 218.7 1877.2 213.1C1873.5 207.5 1870.2 202.5 1867.4 197.5C1864.7 192.5 1862.4 188.1 1860.5 183.0C1858.6 177.8 1857.1 172.4 1856.1 166.4C1855.1 160.4 1854.6 153.7 1854.5 147.0C1854.4 140.2 1854.8 133.0 1855.5 126.0C1856.2 118.9 1857.4 111.8 1858.6 104.9C1859.7 98.0 1861.9 88.0 1862.6 84.6C1864.7 86.6 1871.0 92.1 1875.5 96.2C1879.9 100.4 1884.6 104.8 1889.2 109.6C1893.9 114.5 1898.8 119.8 1903.2 125.3C1907.6 130.8 1912.0 136.8 1915.7 142.7C1919.5 148.5 1922.8 154.6 1925.6 160.5C1928.4 166.3 1930.6 172.1 1932.4 177.9C1934.3 183.7 1935.5 189.2 1936.8 195.3C1938.1 201.4 1938.9 207.7 1940.0 214.5C1941.1 221.3 1942.2 228.8 1943.4 236.1C1944.7 243.5 1946.2 251.4 1947.7 258.4C1949.2 265.4 1950.9 272.3 1952.4 278.1C1954.0 284.0 1955.5 289.2 1957.0 293.6C1958.6 298.0 1960.2 301.4 1961.9 304.6C1963.6 307.8 1966.4 311.5 1967.3 312.8Z"/>
<path d="M1968.1 309.5C1967.7 307.9 1966.9 303.5 1966.0 299.5C1965.1 295.6 1964.2 291.3 1962.9 285.8C1961.7 280.4 1960.0 273.8 1958.4 266.8C1956.8 259.8 1954.9 251.8 1953.2 243.9C1951.6 236.0 1949.9 227.7 1948.5 219.5C1947.2 211.4 1945.9 203.1 1944.9 195.1C1943.9 187.0 1942.9 179.0 1942.6 171.2C1942.2 163.4 1942.1 155.8 1942.7 148.4C1943.2 141.1 1944.4 134.0 1946.0 127.2C1947.6 120.3 1949.9 113.8 1952.3 107.5C1954.7 101.2 1957.6 95.2 1960.4 89.5C1963.1 83.8 1966.0 78.5 1968.9 73.2C1971.7 67.9 1974.5 62.9 1977.4 57.7C1980.4 52.5 1985.1 44.5 1986.6 41.8C1988.1 44.4 1992.9 52.0 1995.8 57.1C1998.8 62.3 2001.7 67.6 2004.4 72.8C2007.0 78.1 2009.5 83.3 2011.6 88.7C2013.8 94.0 2015.7 99.3 2017.2 104.8C2018.7 110.3 2019.9 116.0 2020.5 121.7C2021.2 127.4 2021.4 133.4 2021.1 139.2C2020.8 145.1 2020.0 151.0 2018.9 157.0C2017.8 162.9 2016.3 168.7 2014.5 174.7C2012.7 180.8 2010.5 186.7 2008.3 193.2C2006.1 199.7 2003.5 206.4 2001.2 213.5C1998.9 220.7 1996.6 228.5 1994.5 236.2C1992.4 243.8 1990.5 252.1 1988.6 259.4C1986.8 266.8 1985.1 274.2 1983.5 280.4C1981.9 286.6 1980.5 292.0 1979.1 296.9C1977.8 301.7 1976.1 307.4 1975.5 309.5Z"/>
<path d="M1973.8 309.5C1975.2 308.0 1979.4 303.9 1981.8 300.3C1984.3 296.7 1986.5 292.8 1988.6 288.0C1990.8 283.2 1992.8 277.5 1995.0 271.5C1997.2 265.5 1999.6 258.7 2002.0 252.1C2004.5 245.5 2007.2 238.3 2009.9 231.8C2012.6 225.3 2015.4 218.8 2018.3 212.9C2021.2 207.0 2024.1 201.6 2027.2 196.4C2030.2 191.2 2033.3 186.5 2036.6 181.7C2040.0 176.9 2043.4 172.3 2047.2 167.7C2051.0 163.1 2055.1 158.6 2059.6 154.1C2064.1 149.6 2069.1 145.1 2074.2 140.9C2079.4 136.7 2085.2 132.5 2090.8 128.7C2096.4 125.0 2102.2 121.6 2107.8 118.4C2113.5 115.2 2121.8 111.2 2124.6 109.7C2124.7 112.4 2125.1 120.5 2125.3 125.9C2125.4 131.2 2125.6 136.5 2125.4 141.6C2125.2 146.8 2125.0 151.9 2124.3 156.9C2123.6 161.9 2122.6 166.8 2121.3 171.6C2120.0 176.4 2118.3 181.2 2116.3 185.6C2114.4 190.0 2112.2 194.0 2109.6 198.1C2106.9 202.1 2104.1 205.7 2100.6 209.7C2097.0 213.7 2092.9 217.8 2088.4 222.2C2083.9 226.6 2078.6 231.3 2073.4 236.0C2068.2 240.7 2062.7 245.5 2057.3 250.3C2051.9 255.1 2046.3 260.0 2040.9 264.8C2035.5 269.5 2030.0 274.3 2024.6 278.9C2019.3 283.5 2014.0 288.0 2008.8 292.2C2003.6 296.4 1998.6 300.4 1993.6 304.2C1988.5 308.1 1981.2 313.4 1978.7 315.3Z"/>
<path d="M1978.7 316.9C1981.1 315.4 1988.2 311.2 1992.9 307.9C1997.7 304.6 2002.3 301.0 2007.2 297.1C2012.0 293.2 2016.9 288.8 2022.0 284.3C2027.1 279.9 2032.4 275.2 2037.7 270.6C2043.1 265.9 2048.6 261.2 2054.0 256.6C2059.4 252.1 2064.9 247.6 2070.4 243.4C2075.9 239.1 2081.3 235.0 2086.9 231.2C2092.6 227.4 2098.3 223.7 2104.3 220.7C2110.3 217.6 2116.6 214.7 2123.0 212.6C2129.5 210.5 2136.2 208.9 2143.0 207.8C2149.9 206.8 2156.9 206.5 2164.0 206.2C2171.2 206.0 2182.1 206.4 2185.7 206.5C2184.3 209.0 2180.4 216.6 2177.2 221.7C2174.1 226.8 2170.9 232.0 2167.0 236.9C2163.1 241.9 2158.7 246.9 2153.8 251.5C2148.9 256.1 2143.5 260.5 2137.7 264.5C2131.9 268.6 2125.6 272.5 2119.0 276.0C2112.5 279.5 2105.7 282.8 2098.5 285.8C2091.3 288.8 2083.7 291.5 2076.1 294.1C2068.4 296.7 2060.2 299.0 2052.6 301.3C2044.9 303.6 2037.1 305.7 2030.3 307.9C2023.4 310.1 2017.4 312.3 2011.6 314.3C2005.7 316.2 2000.8 318.1 1995.3 319.8C1989.8 321.4 1981.5 323.5 1978.7 324.3Z"/>
<path d="M1978.7 319.4C1982.1 320.0 1991.7 322.0 1998.7 323.1C2005.6 324.2 2013.0 325.1 2020.6 326.0C2028.2 326.8 2036.3 327.4 2044.3 328.3C2052.3 329.1 2060.6 329.9 2068.4 331.0C2076.2 332.2 2084.1 333.5 2091.2 335.3C2098.4 337.0 2105.1 339.1 2111.4 341.5C2117.7 343.9 2123.4 346.7 2129.2 349.6C2135.0 352.5 2140.5 355.7 2146.3 358.9C2152.0 362.1 2160.7 367.1 2163.6 368.8C2160.2 369.7 2149.8 372.7 2142.9 374.3C2136.0 375.8 2129.1 377.3 2122.2 377.9C2115.3 378.5 2108.4 378.6 2101.5 377.9C2094.6 377.2 2087.6 375.5 2080.8 373.7C2074.0 371.8 2067.3 369.2 2060.6 366.7C2054.0 364.1 2047.4 361.3 2041.1 358.5C2034.8 355.8 2028.5 352.8 2022.7 349.9C2016.9 347.1 2011.5 344.1 2006.5 341.6C2001.6 339.0 1997.3 336.7 1992.8 334.8C1988.4 332.9 1984.3 331.5 1979.8 330.0C1975.2 328.5 1968.0 326.6 1965.6 325.9Z"/>
<ellipse cx="1969" cy="316" rx="14" ry="14"/>
</g>
<line x1="1969.0" y1="316.0" x2="1755.4" y2="341.1" stroke="#23241c" stroke-opacity="0.3" stroke-width="1.3"/>
<line x1="1969.0" y1="316.0" x2="1743.9" y2="206.5" stroke="#23241c" stroke-opacity="0.3" stroke-width="1.3"/>
<line x1="1969.0" y1="316.0" x2="1862.6" y2="84.6" stroke="#23241c" stroke-opacity="0.3" stroke-width="1.3"/>
<line x1="1969.0" y1="316.0" x2="1986.6" y2="41.8" stroke="#23241c" stroke-opacity="0.3" stroke-width="1.3"/>
<line x1="1969.0" y1="316.0" x2="2124.6" y2="109.7" stroke="#23241c" stroke-opacity="0.3" stroke-width="1.3"/>
<line x1="1969.0" y1="316.0" x2="2185.7" y2="206.5" stroke="#23241c" stroke-opacity="0.3" stroke-width="1.3"/>
<line x1="1969.0" y1="316.0" x2="2163.6" y2="368.8" stroke="#23241c" stroke-opacity="0.3" stroke-width="1.3"/>
<rect x="1202.0" y="405.0" width="514.3" height="389.2" fill="url(#bgO3)"/>
<g fill="url(#gO3)" filter="url(#texd)">
<path d="M1445.5 696.5C1442.2 696.5 1432.9 696.3 1426.0 696.7C1419.1 697.0 1411.7 697.6 1404.0 698.4C1396.4 699.2 1388.1 700.3 1380.0 701.5C1371.9 702.6 1363.6 703.8 1355.5 705.4C1347.3 706.9 1339.1 708.4 1331.1 710.6C1323.2 712.7 1315.2 715.2 1307.7 718.2C1300.2 721.3 1292.9 725.0 1285.9 729.0C1278.9 732.9 1272.2 737.4 1265.6 741.7C1258.9 746.1 1249.1 752.8 1245.8 755.0C1249.6 755.3 1261.1 756.2 1268.7 756.4C1276.4 756.7 1284.0 756.9 1291.7 756.5C1299.5 756.2 1307.3 755.4 1315.2 754.2C1323.0 753.1 1331.2 751.3 1338.7 749.7C1346.2 748.2 1353.7 746.3 1360.4 744.7C1367.0 743.2 1372.9 742.0 1378.5 740.6C1384.0 739.2 1388.9 738.2 1393.7 736.5C1398.5 734.9 1403.0 733.0 1407.2 730.6C1411.4 728.1 1415.2 725.0 1418.7 722.0C1422.1 719.0 1425.1 715.4 1428.1 712.5C1431.1 709.6 1433.8 706.8 1436.7 704.4C1439.6 702.0 1444.0 699.1 1445.5 698.1Z"/>
<path d="M1445.5 691.5C1443.7 690.6 1438.9 688.0 1434.9 685.6C1430.9 683.3 1426.7 680.7 1421.3 677.4C1415.9 674.2 1409.5 670.2 1402.6 666.0C1395.7 661.8 1387.7 656.8 1379.8 652.1C1371.9 647.4 1363.6 642.3 1355.5 637.6C1347.3 633.0 1339.1 628.4 1331.1 624.4C1323.2 620.3 1315.3 616.6 1307.7 613.5C1300.1 610.4 1292.9 607.7 1285.6 605.8C1278.3 603.8 1271.2 602.5 1263.8 601.8C1256.4 601.0 1248.9 601.0 1241.2 601.0C1233.6 601.0 1221.9 601.7 1218.0 601.9C1220.6 604.0 1228.1 610.0 1233.3 614.4C1238.6 618.7 1243.8 623.3 1249.4 627.9C1255.0 632.4 1260.7 637.3 1266.8 641.5C1272.9 645.8 1279.3 650.0 1286.1 653.5C1292.9 657.0 1300.2 660.0 1307.7 662.7C1315.2 665.4 1323.2 667.5 1331.1 669.5C1339.1 671.4 1347.3 673.0 1355.5 674.5C1363.6 676.0 1371.9 677.1 1380.0 678.6C1388.1 680.0 1396.4 681.3 1404.0 683.1C1411.7 684.8 1419.1 686.9 1426.0 689.1C1432.9 691.3 1442.2 695.2 1445.5 696.5Z"/>
<path d="M1445.5 689.9C1444.0 688.0 1439.6 682.3 1436.8 678.3C1434.0 674.2 1431.4 670.2 1428.7 665.8C1426.0 661.4 1423.5 656.8 1420.7 652.0C1417.9 647.2 1415.1 642.0 1412.1 637.0C1409.2 632.0 1406.1 626.9 1403.0 621.9C1399.8 616.9 1396.8 612.2 1393.3 606.9C1389.9 601.6 1386.2 596.3 1382.3 590.2C1378.3 584.2 1373.7 577.4 1369.6 570.6C1365.6 563.7 1361.3 556.4 1358.0 549.1C1354.7 541.8 1351.9 534.4 1349.7 526.9C1347.5 519.3 1346.1 511.5 1345.0 503.7C1343.9 496.0 1343.4 488.1 1343.1 480.4C1342.7 472.7 1342.9 461.3 1342.8 457.4C1345.2 460.1 1352.3 467.6 1357.2 473.1C1362.0 478.6 1367.0 484.2 1371.8 490.2C1376.6 496.1 1381.4 502.4 1385.9 508.7C1390.4 515.1 1394.7 521.7 1398.6 528.3C1402.4 534.8 1406.0 541.7 1409.1 548.2C1412.2 554.6 1414.9 561.2 1417.1 567.0C1419.4 572.8 1421.0 577.9 1422.6 582.9C1424.1 587.9 1425.2 592.2 1426.3 597.0C1427.4 601.9 1428.3 606.7 1429.4 611.8C1430.4 616.9 1431.4 622.4 1432.4 627.7C1433.5 633.1 1434.5 638.6 1435.6 643.9C1436.7 649.2 1437.7 654.3 1439.0 659.5C1440.4 664.8 1441.9 669.8 1443.8 675.2C1445.7 680.5 1449.3 688.8 1450.4 691.5Z"/>
<path d="M1448.7 691.5C1448.7 688.6 1448.5 679.9 1448.6 673.9C1448.7 667.8 1448.8 661.8 1449.2 655.4C1449.5 649.1 1450.1 642.5 1450.7 635.7C1451.4 628.9 1452.1 622.0 1453.0 614.8C1453.8 607.5 1454.8 600.1 1455.8 592.4C1456.9 584.7 1458.0 576.5 1459.0 568.5C1460.1 560.5 1461.1 552.3 1462.2 544.4C1463.4 536.6 1464.5 528.9 1466.1 521.5C1467.7 514.0 1469.5 506.7 1471.9 499.6C1474.3 492.5 1477.2 485.6 1480.5 479.0C1483.8 472.4 1487.5 466.0 1491.5 459.9C1495.4 453.9 1499.8 448.3 1504.1 442.8C1508.5 437.3 1515.5 429.7 1517.8 427.1C1518.6 430.2 1521.0 439.1 1522.3 445.4C1523.6 451.6 1525.0 458.0 1525.6 464.5C1526.2 471.1 1526.4 477.9 1526.0 484.7C1525.5 491.5 1524.4 498.4 1522.9 505.3C1521.4 512.2 1519.3 519.2 1517.1 526.1C1514.9 533.0 1512.2 540.0 1509.7 546.7C1507.2 553.4 1504.5 560.2 1502.0 566.3C1499.4 572.4 1496.9 577.8 1494.5 583.3C1492.0 588.8 1489.8 593.6 1487.3 599.3C1484.9 605.0 1482.5 611.1 1480.0 617.6C1477.5 624.1 1474.8 631.6 1472.2 638.5C1469.7 645.4 1467.1 652.5 1464.6 658.9C1462.2 665.3 1459.8 671.3 1457.6 677.0C1455.3 682.7 1452.0 690.5 1450.9 693.2Z"/>
<path d="M1449.3 691.5C1451.4 689.1 1458.1 681.7 1462.3 676.7C1466.4 671.7 1470.3 666.7 1474.2 661.4C1478.2 656.1 1482.0 650.6 1486.0 645.0C1490.0 639.4 1494.2 633.5 1498.4 627.8C1502.5 622.1 1506.8 616.4 1510.8 610.9C1514.8 605.3 1518.8 600.0 1522.6 594.6C1526.4 589.3 1530.1 584.1 1533.7 578.7C1537.4 573.4 1540.9 568.1 1544.8 562.8C1548.6 557.5 1552.4 552.1 1557.0 546.8C1561.5 541.5 1566.6 536.1 1572.1 530.9C1577.5 525.8 1583.7 520.5 1589.7 515.7C1595.7 510.8 1602.1 506.2 1608.2 501.8C1614.3 497.4 1623.3 491.4 1626.3 489.4C1626.2 492.5 1626.2 502.1 1625.7 508.5C1625.1 514.9 1624.3 521.3 1622.8 527.6C1621.3 533.8 1619.3 540.1 1616.8 546.0C1614.3 551.9 1611.1 557.7 1608.0 563.0C1604.8 568.2 1601.2 573.1 1597.9 577.3C1594.6 581.6 1591.5 585.1 1588.0 588.6C1584.6 592.2 1581.4 595.0 1577.1 598.6C1572.8 602.3 1567.9 606.1 1562.4 610.4C1556.9 614.7 1550.4 619.7 1544.1 624.5C1537.8 629.2 1531.0 634.3 1524.5 639.2C1518.1 644.1 1511.5 649.0 1505.1 653.8C1498.8 658.6 1492.5 663.4 1486.5 668.0C1480.5 672.7 1474.8 677.2 1469.1 681.6C1463.5 686.1 1455.3 692.6 1452.5 694.8Z"/>
<path d="M1450.9 691.5C1454.1 690.2 1463.4 686.3 1469.8 683.4C1476.3 680.5 1482.8 677.5 1489.8 674.2C1496.8 670.9 1504.3 667.2 1512.0 663.6C1519.7 659.9 1527.9 656.0 1536.0 652.3C1544.1 648.5 1552.4 644.6 1560.5 641.0C1568.7 637.4 1576.9 633.8 1585.1 630.8C1593.3 627.8 1601.5 625.0 1609.6 622.8C1617.8 620.7 1626.0 619.0 1634.2 617.9C1642.3 616.8 1650.5 616.3 1658.5 616.1C1666.5 615.9 1674.4 616.3 1682.0 616.8C1689.7 617.2 1700.8 618.4 1704.6 618.7C1701.8 621.0 1693.6 627.9 1687.9 632.2C1682.1 636.6 1676.3 641.0 1670.0 645.0C1663.7 649.0 1657.0 652.8 1650.1 656.3C1643.3 659.7 1636.0 662.8 1628.8 665.6C1621.5 668.3 1614.1 670.6 1606.7 672.6C1599.2 674.6 1591.7 676.2 1584.0 677.7C1576.2 679.1 1568.3 680.2 1560.3 681.3C1552.3 682.4 1544.0 683.2 1536.0 684.2C1528.0 685.1 1519.7 686.0 1512.2 686.9C1504.6 687.9 1497.5 688.9 1490.6 690.0C1483.7 691.0 1477.5 692.1 1470.9 693.2C1464.2 694.3 1454.2 695.9 1450.9 696.5Z"/>
<path d="M1452.5 691.5C1456.1 692.5 1466.7 695.3 1474.0 697.3C1481.3 699.3 1488.7 701.3 1496.3 703.5C1504.0 705.8 1511.9 708.2 1519.8 710.8C1527.8 713.5 1536.1 716.5 1544.2 719.5C1552.3 722.4 1560.6 725.6 1568.6 728.4C1576.7 731.2 1584.7 733.7 1592.4 736.3C1600.0 739.0 1607.3 741.2 1614.3 744.0C1621.4 746.8 1627.9 749.7 1634.5 753.0C1641.1 756.3 1647.4 760.0 1653.9 763.7C1660.4 767.3 1670.2 773.1 1673.5 775.0C1669.5 775.1 1657.8 775.6 1649.9 775.6C1642.0 775.5 1634.0 775.5 1626.1 774.9C1618.2 774.3 1610.3 773.3 1602.8 772.0C1595.3 770.7 1588.0 768.9 1581.0 766.9C1574.0 765.0 1567.3 762.7 1560.5 760.4C1553.8 758.1 1547.1 755.5 1540.6 753.0C1534.1 750.5 1527.5 748.1 1521.4 745.5C1515.2 743.0 1509.3 740.5 1503.8 737.6C1498.3 734.6 1493.1 731.3 1488.2 727.9C1483.4 724.4 1478.9 720.4 1474.5 716.7C1470.1 713.1 1466.1 709.3 1461.9 706.0C1457.6 702.6 1451.4 698.0 1449.3 696.5Z"/>
<ellipse cx="1450.5" cy="693.2" rx="8" ry="8"/>
</g>
<path d="M1445.5 696.5C1442.2 696.5 1432.9 696.3 1426.0 696.7C1419.1 697.0 1411.7 697.6 1404.0 698.4C1396.4 699.2 1388.1 700.3 1380.0 701.5C1371.9 702.6 1363.6 703.8 1355.5 705.4C1347.3 706.9 1339.1 708.4 1331.1 710.6C1323.2 712.7 1315.2 715.2 1307.7 718.2C1300.2 721.3 1292.9 725.0 1285.9 729.0C1278.9 732.9 1272.2 737.4 1265.6 741.7C1258.9 746.1 1249.1 752.8 1245.8 755.0C1249.6 755.3 1261.1 756.2 1268.7 756.4C1276.4 756.7 1284.0 756.9 1291.7 756.5C1299.5 756.2 1307.3 755.4 1315.2 754.2C1323.0 753.1 1331.2 751.3 1338.7 749.7C1346.2 748.2 1353.7 746.3 1360.4 744.7C1367.0 743.2 1372.9 742.0 1378.5 740.6C1384.0 739.2 1388.9 738.2 1393.7 736.5C1398.5 734.9 1403.0 733.0 1407.2 730.6C1411.4 728.1 1415.2 725.0 1418.7 722.0C1422.1 719.0 1425.1 715.4 1428.1 712.5C1431.1 709.6 1433.8 706.8 1436.7 704.4C1439.6 702.0 1444.0 699.1 1445.5 698.1Z" fill="#665a2a" opacity="0.22" filter="url(#bl2)"/>
<path d="M1452.5 691.5C1456.1 692.5 1466.7 695.3 1474.0 697.3C1481.3 699.3 1488.7 701.3 1496.3 703.5C1504.0 705.8 1511.9 708.2 1519.8 710.8C1527.8 713.5 1536.1 716.5 1544.2 719.5C1552.3 722.4 1560.6 725.6 1568.6 728.4C1576.7 731.2 1584.7 733.7 1592.4 736.3C1600.0 739.0 1607.3 741.2 1614.3 744.0C1621.4 746.8 1627.9 749.7 1634.5 753.0C1641.1 756.3 1647.4 760.0 1653.9 763.7C1660.4 767.3 1670.2 773.1 1673.5 775.0C1669.5 775.1 1657.8 775.6 1649.9 775.6C1642.0 775.5 1634.0 775.5 1626.1 774.9C1618.2 774.3 1610.3 773.3 1602.8 772.0C1595.3 770.7 1588.0 768.9 1581.0 766.9C1574.0 765.0 1567.3 762.7 1560.5 760.4C1553.8 758.1 1547.1 755.5 1540.6 753.0C1534.1 750.5 1527.5 748.1 1521.4 745.5C1515.2 743.0 1509.3 740.5 1503.8 737.6C1498.3 734.6 1493.1 731.3 1488.2 727.9C1483.4 724.4 1478.9 720.4 1474.5 716.7C1470.1 713.1 1466.1 709.3 1461.9 706.0C1457.6 702.6 1451.4 698.0 1449.3 696.5Z" fill="#665a2a" opacity="0.22" filter="url(#bl2)"/>
<ellipse cx="1450.5" cy="693.2" rx="5" ry="5" fill="#5a4c1e" opacity="0.8"/>
<rect x="1730.7" y="405.0" width="477.6" height="389.2" fill="url(#bgO23)"/>
<rect x="1730.7" y="405" width="200" height="180" fill="url(#bgO23b)" opacity="0.3"/>
<rect x="1730.7" y="405" width="14" height="389.2" fill="url(#fadeL)" opacity="0.7"/>
<g fill="url(#gO23)" filter="url(#texo)">
<path d="M1961.5 704.6C1957.8 704.2 1946.7 703.0 1939.5 702.1C1932.2 701.2 1925.4 700.2 1918.0 699.2C1910.6 698.2 1903.2 697.1 1895.3 696.2C1887.3 695.3 1878.8 694.3 1870.3 693.7C1861.8 693.2 1852.8 692.7 1844.3 692.8C1835.7 692.9 1827.0 693.3 1818.9 694.2C1810.7 695.2 1803.0 696.7 1795.4 698.5C1787.9 700.3 1780.8 702.7 1773.7 705.1C1766.6 707.5 1756.3 711.5 1752.8 712.8C1755.5 714.2 1763.3 718.3 1768.7 720.9C1774.0 723.5 1779.3 726.2 1785.1 728.4C1790.8 730.6 1796.7 732.7 1803.1 734.2C1809.6 735.7 1816.7 736.8 1823.9 737.4C1831.1 738.0 1839.2 737.9 1846.6 737.7C1854.0 737.6 1861.6 736.9 1868.4 736.4C1875.1 735.9 1881.4 735.5 1887.1 734.7C1892.8 733.9 1897.9 733.2 1902.9 731.8C1907.8 730.5 1912.2 728.7 1916.6 726.8C1920.9 724.9 1925.0 722.5 1929.1 720.6C1933.3 718.7 1937.3 716.8 1941.3 715.3C1945.3 713.7 1949.3 712.5 1953.2 711.3C1957.1 710.1 1962.8 708.5 1964.7 707.9Z"/>
<path d="M1953.3 707.9C1952.0 706.2 1948.2 700.9 1945.5 697.4C1942.8 693.8 1940.3 690.4 1937.3 686.5C1934.4 682.7 1931.3 678.6 1927.9 674.3C1924.5 669.9 1920.9 665.1 1917.1 660.3C1913.3 655.4 1909.3 650.3 1905.2 645.0C1901.2 639.8 1896.9 634.2 1892.7 628.8C1888.6 623.3 1884.4 617.5 1880.4 612.5C1876.5 607.4 1872.8 602.6 1868.9 598.4C1865.0 594.3 1861.3 590.8 1856.8 587.4C1852.3 584.0 1847.4 581.0 1842.0 578.1C1836.6 575.2 1830.4 572.5 1824.3 570.1C1818.2 567.7 1811.7 565.6 1805.4 563.8C1799.0 561.9 1789.4 559.6 1786.2 558.8C1787.1 561.0 1789.7 568.0 1791.5 572.3C1793.4 576.6 1795.2 580.7 1797.3 584.6C1799.3 588.4 1801.4 591.8 1803.9 595.5C1806.5 599.2 1809.2 602.7 1812.4 606.7C1815.6 610.6 1819.3 615.0 1823.3 619.0C1827.2 623.1 1831.7 627.4 1836.1 631.1C1840.5 634.8 1845.2 638.0 1849.7 641.0C1854.2 644.0 1858.7 646.4 1863.2 649.0C1867.6 651.6 1872.0 654.0 1876.5 656.9C1881.0 659.8 1885.5 662.9 1890.2 666.3C1894.9 669.7 1899.8 673.6 1904.7 677.3C1909.6 681.1 1914.6 685.1 1919.7 688.8C1924.8 692.5 1930.0 696.1 1935.3 699.5C1940.6 703.0 1948.9 707.9 1951.6 709.5Z"/>
<path d="M1953.3 703.0C1952.2 701.0 1948.9 695.1 1946.6 690.7C1944.3 686.4 1942.0 681.9 1939.5 677.0C1936.9 672.1 1934.2 666.8 1931.3 661.3C1928.4 655.8 1925.2 649.8 1922.1 644.0C1918.9 638.2 1915.6 632.0 1912.5 626.4C1909.3 620.8 1906.1 615.2 1903.1 610.3C1900.0 605.5 1897.1 601.3 1894.2 597.1C1891.3 592.9 1888.3 589.5 1885.7 585.0C1883.0 580.6 1880.4 575.9 1878.3 570.5C1876.1 565.0 1874.2 558.7 1872.8 552.2C1871.3 545.6 1870.3 538.4 1869.7 531.1C1869.1 523.9 1869.0 516.1 1869.3 508.5C1869.6 500.8 1870.4 493.0 1871.3 485.5C1872.2 477.9 1874.2 466.8 1874.8 463.0C1876.6 465.5 1882.2 473.0 1885.9 478.0C1889.7 483.0 1893.7 488.0 1897.3 493.1C1900.9 498.2 1904.5 503.3 1907.6 508.6C1910.6 513.9 1913.3 519.2 1915.6 524.7C1917.8 530.2 1919.5 535.8 1921.0 541.6C1922.6 547.4 1923.8 553.6 1925.1 559.6C1926.4 565.6 1927.6 571.7 1928.9 577.6C1930.2 583.6 1931.5 589.2 1932.8 595.1C1934.0 600.9 1935.3 606.6 1936.5 612.6C1937.8 618.6 1939.0 624.9 1940.3 631.2C1941.6 637.5 1942.9 644.2 1944.2 650.5C1945.6 656.9 1946.8 663.4 1948.3 669.5C1949.7 675.5 1951.2 681.4 1952.8 686.9C1954.5 692.5 1957.3 700.3 1958.2 703.0Z"/>
<path d="M1956.5 701.4C1956.3 698.8 1955.7 691.2 1955.1 685.8C1954.5 680.4 1953.7 674.8 1952.9 668.9C1952.0 663.0 1951.0 656.7 1950.0 650.4C1948.9 644.1 1947.9 637.5 1946.8 631.2C1945.7 624.9 1944.7 618.6 1943.3 612.4C1942.0 606.2 1940.4 600.2 1938.7 593.9C1936.9 587.5 1934.7 581.1 1932.9 574.3C1931.0 567.4 1929.0 560.2 1927.7 553.0C1926.4 545.8 1925.4 538.3 1925.0 530.8C1924.7 523.4 1924.8 516.0 1925.6 508.5C1926.4 501.1 1927.9 493.6 1929.8 486.2C1931.7 478.7 1934.3 471.3 1937.0 463.9C1939.7 456.6 1942.8 449.3 1945.9 442.1C1948.9 434.9 1953.8 424.3 1955.3 420.7C1956.5 424.3 1960.1 434.9 1962.5 442.1C1964.9 449.3 1967.5 456.6 1969.8 463.9C1972.1 471.2 1974.5 478.7 1976.3 486.0C1978.0 493.2 1979.6 500.4 1980.5 507.6C1981.3 514.8 1981.7 521.9 1981.6 529.2C1981.6 536.6 1980.9 544.1 1980.1 551.6C1979.4 559.1 1978.2 566.7 1977.2 574.2C1976.1 581.7 1974.8 589.0 1973.7 596.6C1972.6 604.2 1971.5 612.0 1970.4 619.9C1969.4 627.7 1968.5 636.0 1967.5 643.8C1966.6 651.5 1965.7 659.4 1964.9 666.4C1964.0 673.3 1963.2 679.7 1962.4 685.5C1961.5 691.3 1960.3 698.7 1959.9 701.4Z"/>
<path d="M1960.7 699.7C1961.8 697.8 1965.2 692.6 1967.2 688.3C1969.1 684.0 1970.8 679.4 1972.5 674.1C1974.2 668.7 1975.6 662.5 1977.2 656.2C1978.8 649.8 1980.4 642.7 1981.9 635.9C1983.5 629.2 1985.1 622.1 1986.6 615.7C1988.2 609.2 1989.6 603.1 1991.2 597.3C1992.8 591.4 1994.4 586.2 1996.2 580.6C1998.0 575.1 1999.9 569.7 2002.1 564.2C2004.2 558.6 2006.4 552.9 2009.0 547.4C2011.6 541.9 2014.4 536.3 2017.7 531.0C2021.0 525.7 2024.8 520.5 2028.9 515.6C2033.0 510.6 2037.7 505.8 2042.4 501.3C2047.2 496.7 2052.3 492.4 2057.2 488.2C2062.1 483.9 2069.6 477.9 2072.1 475.8C2071.7 478.7 2070.6 487.5 2069.9 493.4C2069.2 499.4 2068.5 505.6 2067.7 511.7C2066.8 517.9 2065.9 524.2 2064.6 530.1C2063.4 536.1 2061.9 542.0 2060.0 547.7C2058.2 553.4 2056.1 558.8 2053.6 564.2C2051.1 569.5 2048.3 574.7 2045.2 579.9C2042.2 585.2 2038.7 590.3 2035.3 595.5C2031.9 600.8 2028.3 606.1 2024.9 611.6C2021.5 617.0 2018.1 622.6 2014.8 628.2C2011.4 633.8 2008.2 639.6 2004.9 645.2C2001.6 650.8 1998.4 656.5 1995.1 661.9C1991.8 667.3 1988.5 672.6 1985.1 677.6C1981.6 682.6 1978.0 687.4 1974.2 691.9C1970.4 696.4 1964.3 702.5 1962.4 704.6Z"/>
<path d="M1960.7 699.7C1963.5 699.0 1971.5 697.0 1977.6 695.5C1983.7 694.0 1990.2 692.4 1997.2 690.5C2004.3 688.6 2012.1 686.5 2019.9 684.1C2027.8 681.8 2036.1 678.9 2044.2 676.3C2052.3 673.6 2060.5 670.5 2068.7 668.0C2076.9 665.5 2085.1 663.0 2093.3 661.2C2101.5 659.3 2109.7 657.9 2117.8 657.0C2125.9 656.2 2134.2 656.0 2141.9 656.2C2149.5 656.3 2157.0 657.2 2163.8 657.9C2170.6 658.6 2176.6 659.7 2182.5 660.4C2188.3 661.2 2196.1 662.1 2198.8 662.4C2196.2 664.8 2188.3 672.1 2183.0 676.6C2177.6 681.2 2172.4 685.7 2166.9 689.6C2161.4 693.6 2156.0 697.2 2150.0 700.3C2144.1 703.4 2137.9 706.1 2131.1 708.1C2124.3 710.2 2116.8 711.7 2109.1 712.5C2101.5 713.3 2093.2 713.4 2085.1 713.1C2077.0 712.9 2068.7 711.9 2060.5 711.1C2052.4 710.3 2044.1 709.1 2036.0 708.3C2027.9 707.4 2019.7 706.5 2012.2 705.9C2004.7 705.2 1997.5 704.6 1991.1 704.3C1984.7 704.0 1979.3 703.9 1973.9 704.0C1968.6 704.0 1961.6 704.5 1959.1 704.6Z"/>
<path d="M1957.5 704.6C1960.4 705.2 1968.4 706.8 1974.8 707.9C1981.2 709.0 1988.3 710.1 1995.8 711.2C2003.3 712.4 2011.6 713.5 2019.6 714.8C2027.7 716.0 2036.1 717.3 2044.2 718.9C2052.3 720.5 2060.5 722.1 2068.2 724.4C2075.9 726.6 2083.4 729.3 2090.2 732.4C2097.0 735.5 2103.1 739.2 2109.1 743.1C2115.1 746.9 2120.5 751.2 2126.2 755.5C2132.0 759.8 2137.6 764.3 2143.6 768.8C2149.6 773.2 2158.9 780.1 2162.0 782.4C2158.4 782.0 2147.9 780.8 2140.5 779.9C2133.2 779.1 2125.4 778.3 2117.8 777.3C2110.3 776.3 2102.4 775.3 2095.1 773.7C2087.8 772.1 2080.8 770.1 2073.9 767.6C2067.1 765.1 2060.6 762.0 2054.0 758.8C2047.4 755.7 2040.9 752.2 2034.4 748.9C2027.9 745.6 2021.3 742.3 2014.9 739.0C2008.6 735.7 2002.3 732.5 1996.3 729.4C1990.4 726.3 1984.6 723.3 1979.3 720.6C1974.1 717.9 1969.3 715.4 1964.8 713.0C1960.4 710.6 1954.6 707.4 1952.5 706.3Z"/>
<ellipse cx="1958.5" cy="701.4" rx="6" ry="5.5"/>
<g clip-path="url(#cO23)"><g filter="url(#cO23b)" stroke="#1f2018" stroke-opacity="0.4" stroke-linecap="round" fill="none">
<line x1="1896.8" y1="704.8" x2="1798.1" y2="710.3" stroke-width="17.9"/>
<line x1="1906.8" y1="658.6" x2="1824.1" y2="590.1" stroke-width="19.4"/>
<line x1="1933.4" y1="629.9" x2="1893.2" y2="515.5" stroke-width="21.9"/>
<line x1="1957.6" y1="617.2" x2="1956.0" y2="482.5" stroke-width="24.3"/>
<line x1="1992.6" y1="633.7" x2="2047.1" y2="525.4" stroke-width="21.9"/>
<line x1="2030.6" y1="689.7" x2="2146.0" y2="671.0" stroke-width="21.1"/>
<line x1="2019.6" y1="725.7" x2="2117.2" y2="764.6" stroke-width="19.0"/>
</g></g>
</g>
<line x1="1958.5" y1="701.4" x2="1752.8" y2="712.8" stroke="#1e1e14" stroke-opacity="0.4" stroke-width="1.3"/>
<line x1="1958.5" y1="701.4" x2="1786.2" y2="558.8" stroke="#1e1e14" stroke-opacity="0.4" stroke-width="1.3"/>
<line x1="1958.5" y1="701.4" x2="1874.8" y2="463.0" stroke="#1e1e14" stroke-opacity="0.4" stroke-width="1.3"/>
<line x1="1958.5" y1="701.4" x2="1955.3" y2="420.7" stroke="#1e1e14" stroke-opacity="0.4" stroke-width="1.3"/>
<line x1="1958.5" y1="701.4" x2="2072.1" y2="475.8" stroke="#1e1e14" stroke-opacity="0.4" stroke-width="1.3"/>
<line x1="1958.5" y1="701.4" x2="2198.8" y2="662.4" stroke="#1e1e14" stroke-opacity="0.4" stroke-width="1.3"/>
<line x1="1958.5" y1="701.4" x2="2162.0" y2="782.4" stroke="#1e1e14" stroke-opacity="0.4" stroke-width="1.3"/>
<text transform="translate(1220.5 76.3) scale(1 1.09)" font-size="32" fill="#000">WT</text>
<text transform="translate(1722.6 72) scale(0.975 1.09)" font-size="32" fill="#000">OE-1</text>
<text transform="translate(1220 442.2) scale(1.01 1.09)" font-size="32" fill="#000">OE-3</text>
<text transform="translate(1722.4 442.2) scale(1.005 1.09)" font-size="32" fill="#000">OE-23</text>
<rect x="131.20" y="28.90" width="402.50" height="325.80" fill="none" stroke="#3a3a3a" stroke-width="1.6"/>
<line x1="125.20" y1="354.60" x2="131.20" y2="354.60" stroke="#3a3a3a" stroke-width="1.3" />
<text x="114.00" y="362.03" font-size="23" text-anchor="end" fill="#000" >0</text>
<line x1="125.20" y1="325.00" x2="131.20" y2="325.00" stroke="#3a3a3a" stroke-width="1.3" />
<text x="114.00" y="332.43" font-size="23" text-anchor="end" fill="#000" >2</text>
<line x1="125.20" y1="295.40" x2="131.20" y2="295.40" stroke="#3a3a3a" stroke-width="1.3" />
<text x="114.00" y="302.83" font-size="23" text-anchor="end" fill="#000" >4</text>
<line x1="125.20" y1="265.80" x2="131.20" y2="265.80" stroke="#3a3a3a" stroke-width="1.3" />
<text x="114.00" y="273.23" font-size="23" text-anchor="end" fill="#000" >6</text>
<line x1="125.20" y1="236.20" x2="131.20" y2="236.20" stroke="#3a3a3a" stroke-width="1.3" />
<text x="114.00" y="243.63" font-size="23" text-anchor="end" fill="#000" >8</text>
<line x1="125.20" y1="206.60" x2="131.20" y2="206.60" stroke="#3a3a3a" stroke-width="1.3" />
<text x="114.00" y="214.03" font-size="23" text-anchor="end" fill="#000" >10</text>
<line x1="125.20" y1="177.00" x2="131.20" y2="177.00" stroke="#3a3a3a" stroke-width="1.3" />
<text x="114.00" y="184.43" font-size="23" text-anchor="end" fill="#000" >12</text>
<line x1="125.20" y1="147.40" x2="131.20" y2="147.40" stroke="#3a3a3a" stroke-width="1.3" />
<text x="114.00" y="154.83" font-size="23" text-anchor="end" fill="#000" >14</text>
<line x1="125.20" y1="117.80" x2="131.20" y2="117.80" stroke="#3a3a3a" stroke-width="1.3" />
<text x="114.00" y="125.23" font-size="23" text-anchor="end" fill="#000" >16</text>
<line x1="125.20" y1="88.20" x2="131.20" y2="88.20" stroke="#3a3a3a" stroke-width="1.3" />
<text x="114.00" y="95.63" font-size="23" text-anchor="end" fill="#000" >18</text>
<line x1="125.20" y1="58.60" x2="131.20" y2="58.60" stroke="#3a3a3a" stroke-width="1.3" />
<text x="114.00" y="66.03" font-size="23" text-anchor="end" fill="#000" >20</text>
<line x1="125.20" y1="29.00" x2="131.20" y2="29.00" stroke="#3a3a3a" stroke-width="1.3" />
<text x="114.00" y="36.43" font-size="23" text-anchor="end" fill="#000" >22</text>
<line x1="211.50" y1="354.70" x2="211.50" y2="360.70" stroke="#3a3a3a" stroke-width="1.3" />
<text x="211.50" y="393.40" font-size="23" font-weight="bold" text-anchor="middle" fill="#000" letter-spacing="-0.4">6:00</text>
<line x1="291.90" y1="354.70" x2="291.90" y2="360.70" stroke="#3a3a3a" stroke-width="1.3" />
<text x="291.90" y="393.40" font-size="23" font-weight="bold" text-anchor="middle" fill="#000" letter-spacing="-0.4">12:00</text>
<line x1="372.30" y1="354.70" x2="372.30" y2="360.70" stroke="#3a3a3a" stroke-width="1.3" />
<text x="372.30" y="393.40" font-size="23" font-weight="bold" text-anchor="middle" fill="#000" letter-spacing="-0.4">18:00</text>
<line x1="452.40" y1="354.70" x2="452.40" y2="360.70" stroke="#3a3a3a" stroke-width="1.3" />
<text x="452.40" y="393.40" font-size="23" font-weight="bold" text-anchor="middle" fill="#000" letter-spacing="-0.4">24:00</text>
<path d="M211.50 306.25L291.90 253.25L372.30 303.00L452.40 268.25" fill="none" stroke="#161616" stroke-width="1.25"/>
<line x1="211.50" y1="299.50" x2="211.50" y2="314.00" stroke="#222" stroke-width="1.15" />
<line x1="206.50" y1="299.50" x2="216.50" y2="299.50" stroke="#222" stroke-width="1.15" />
<line x1="206.50" y1="314.00" x2="216.50" y2="314.00" stroke="#222" stroke-width="1.15" />
<line x1="291.90" y1="249.25" x2="291.90" y2="258.00" stroke="#222" stroke-width="1.15" />
<line x1="286.90" y1="249.25" x2="296.90" y2="249.25" stroke="#222" stroke-width="1.15" />
<line x1="286.90" y1="258.00" x2="296.90" y2="258.00" stroke="#222" stroke-width="1.15" />
<line x1="372.30" y1="299.50" x2="372.30" y2="307.50" stroke="#222" stroke-width="1.15" />
<line x1="367.30" y1="299.50" x2="377.30" y2="299.50" stroke="#222" stroke-width="1.15" />
<line x1="367.30" y1="307.50" x2="377.30" y2="307.50" stroke="#222" stroke-width="1.15" />
<line x1="452.40" y1="264.25" x2="452.40" y2="273.00" stroke="#222" stroke-width="1.15" />
<line x1="447.40" y1="264.25" x2="457.40" y2="264.25" stroke="#222" stroke-width="1.15" />
<line x1="447.40" y1="273.00" x2="457.40" y2="273.00" stroke="#222" stroke-width="1.15" />
<circle cx="211.50" cy="306.25" r="3.9" fill="#000"/>
<circle cx="291.90" cy="253.25" r="3.9" fill="#000"/>
<circle cx="372.30" cy="303.00" r="3.9" fill="#000"/>
<circle cx="452.40" cy="268.25" r="3.9" fill="#000"/>
<path d="M211.50 196.75L291.90 211.75L372.30 213.50L452.40 213.00" fill="none" stroke="#161616" stroke-width="1.25"/>
<line x1="211.50" y1="190.75" x2="211.50" y2="203.00" stroke="#222" stroke-width="1.15" />
<line x1="206.50" y1="190.75" x2="216.50" y2="190.75" stroke="#222" stroke-width="1.15" />
<line x1="206.50" y1="203.00" x2="216.50" y2="203.00" stroke="#222" stroke-width="1.15" />
<line x1="291.90" y1="203.75" x2="291.90" y2="220.00" stroke="#222" stroke-width="1.15" />
<line x1="286.90" y1="203.75" x2="296.90" y2="203.75" stroke="#222" stroke-width="1.15" />
<line x1="286.90" y1="220.00" x2="296.90" y2="220.00" stroke="#222" stroke-width="1.15" />
<line x1="372.30" y1="207.50" x2="372.30" y2="219.75" stroke="#222" stroke-width="1.15" />
<line x1="367.30" y1="207.50" x2="377.30" y2="207.50" stroke="#222" stroke-width="1.15" />
<line x1="367.30" y1="219.75" x2="377.30" y2="219.75" stroke="#222" stroke-width="1.15" />
<line x1="452.40" y1="210.75" x2="452.40" y2="215.50" stroke="#222" stroke-width="1.15" />
<line x1="447.40" y1="210.75" x2="457.40" y2="210.75" stroke="#222" stroke-width="1.15" />
<line x1="447.40" y1="215.50" x2="457.40" y2="215.50" stroke="#222" stroke-width="1.15" />
<circle cx="211.50" cy="196.75" r="3.3" fill="#fff" stroke="#111" stroke-width="1.15"/>
<circle cx="291.90" cy="211.75" r="3.3" fill="#fff" stroke="#111" stroke-width="1.15"/>
<circle cx="372.30" cy="213.50" r="3.3" fill="#fff" stroke="#111" stroke-width="1.15"/>
<circle cx="452.40" cy="213.00" r="3.3" fill="#fff" stroke="#111" stroke-width="1.15"/>
<path d="M211.50 153.75L291.90 116.75L372.30 188.75L452.40 154.25" fill="none" stroke="#161616" stroke-width="1.25"/>
<line x1="211.50" y1="135.25" x2="211.50" y2="171.00" stroke="#222" stroke-width="1.15" />
<line x1="206.50" y1="135.25" x2="216.50" y2="135.25" stroke="#222" stroke-width="1.15" />
<line x1="206.50" y1="171.00" x2="216.50" y2="171.00" stroke="#222" stroke-width="1.15" />
<line x1="291.90" y1="59.50" x2="291.90" y2="173.00" stroke="#222" stroke-width="1.15" />
<line x1="286.90" y1="59.50" x2="296.90" y2="59.50" stroke="#222" stroke-width="1.15" />
<line x1="286.90" y1="173.00" x2="296.90" y2="173.00" stroke="#222" stroke-width="1.15" />
<line x1="372.30" y1="182.00" x2="372.30" y2="194.50" stroke="#222" stroke-width="1.15" />
<line x1="367.30" y1="182.00" x2="377.30" y2="182.00" stroke="#222" stroke-width="1.15" />
<line x1="367.30" y1="194.50" x2="377.30" y2="194.50" stroke="#222" stroke-width="1.15" />
<line x1="452.40" y1="152.00" x2="452.40" y2="156.25" stroke="#222" stroke-width="1.15" />
<line x1="447.40" y1="152.00" x2="457.40" y2="152.00" stroke="#222" stroke-width="1.15" />
<line x1="447.40" y1="156.25" x2="457.40" y2="156.25" stroke="#222" stroke-width="1.15" />
<path d="M207.00 150.95L216.00 150.95L211.50 158.25Z" fill="#000"/>
<path d="M287.40 113.95L296.40 113.95L291.90 121.25Z" fill="#000"/>
<path d="M367.80 185.95L376.80 185.95L372.30 193.25Z" fill="#000"/>
<path d="M447.90 151.45L456.90 151.45L452.40 158.75Z" fill="#000"/>
<line x1="413.75" y1="51.00" x2="460.00" y2="51.00" stroke="#1a1a1a" stroke-width="1.2" />
<circle cx="436.88" cy="51.00" r="3.9" fill="#000"/>
<text x="477.50" y="58.20" font-size="21" text-anchor="start" fill="#000" >WT</text>
<line x1="413.75" y1="75.50" x2="460.00" y2="75.50" stroke="#1a1a1a" stroke-width="1.2" />
<circle cx="436.88" cy="75.50" r="3.3" fill="#fff" stroke="#111" stroke-width="1.15"/>
<text x="477.50" y="82.70" font-size="21" text-anchor="start" fill="#000" letter-spacing="-1">OE-1</text>
<line x1="413.75" y1="100.75" x2="460.00" y2="100.75" stroke="#1a1a1a" stroke-width="1.2" />
<path d="M432.38 97.95L441.38 97.95L436.88 105.25Z" fill="#000"/>
<text x="477.50" y="107.95" font-size="21" text-anchor="start" fill="#000" letter-spacing="-1">OE-3</text>
<text x="45.40" y="194.50" font-size="22.75" font-weight="bold" text-anchor="middle" fill="#000" transform="rotate(-90 45.40 194.50)" >Glucose content of leaves</text>
<text x="73.90" y="190.80" font-size="22.75" font-weight="bold" text-anchor="middle" fill="#000" transform="rotate(-90 73.90 190.80)" word-spacing="0">(mg/g, FW)</text>
<text x="2.00" y="30.00" font-size="38" font-weight="bold" text-anchor="start" fill="#000" >A</text>
<rect x="705.75" y="30.50" width="416.65" height="325.40" fill="none" stroke="#3a3a3a" stroke-width="1.6"/>
<line x1="699.75" y1="355.90" x2="705.75" y2="355.90" stroke="#3a3a3a" stroke-width="1.3" />
<text x="690.00" y="363.33" font-size="23" text-anchor="end" fill="#000" >0</text>
<line x1="699.75" y1="301.66" x2="705.75" y2="301.66" stroke="#3a3a3a" stroke-width="1.3" />
<text x="690.00" y="309.09" font-size="23" text-anchor="end" fill="#000" >2</text>
<line x1="699.75" y1="247.42" x2="705.75" y2="247.42" stroke="#3a3a3a" stroke-width="1.3" />
<text x="690.00" y="254.85" font-size="23" text-anchor="end" fill="#000" >4</text>
<line x1="699.75" y1="193.18" x2="705.75" y2="193.18" stroke="#3a3a3a" stroke-width="1.3" />
<text x="690.00" y="200.61" font-size="23" text-anchor="end" fill="#000" >6</text>
<line x1="699.75" y1="138.94" x2="705.75" y2="138.94" stroke="#3a3a3a" stroke-width="1.3" />
<text x="690.00" y="146.37" font-size="23" text-anchor="end" fill="#000" >8</text>
<line x1="699.75" y1="84.70" x2="705.75" y2="84.70" stroke="#3a3a3a" stroke-width="1.3" />
<text x="690.00" y="92.13" font-size="23" text-anchor="end" fill="#000" >10</text>
<line x1="699.75" y1="30.46" x2="705.75" y2="30.46" stroke="#3a3a3a" stroke-width="1.3" />
<text x="690.00" y="37.89" font-size="23" text-anchor="end" fill="#000" >12</text>
<line x1="789.25" y1="355.90" x2="789.25" y2="361.90" stroke="#3a3a3a" stroke-width="1.3" />
<text x="789.25" y="394.20" font-size="23" font-weight="bold" text-anchor="middle" fill="#000" letter-spacing="-0.4">06:00</text>
<line x1="872.50" y1="355.90" x2="872.50" y2="361.90" stroke="#3a3a3a" stroke-width="1.3" />
<text x="872.50" y="394.20" font-size="23" font-weight="bold" text-anchor="middle" fill="#000" letter-spacing="-0.4">12:00</text>
<line x1="955.75" y1="355.90" x2="955.75" y2="361.90" stroke="#3a3a3a" stroke-width="1.3" />
<text x="955.75" y="394.20" font-size="23" font-weight="bold" text-anchor="middle" fill="#000" letter-spacing="-0.4">18:00</text>
<line x1="1038.75" y1="355.90" x2="1038.75" y2="361.90" stroke="#3a3a3a" stroke-width="1.3" />
<text x="1038.75" y="394.20" font-size="23" font-weight="bold" text-anchor="middle" fill="#000" letter-spacing="-0.4">24:00</text>
<path d="M789.25 303.00L872.50 310.50L955.75 341.75L1038.75 313.25" fill="none" stroke="#161616" stroke-width="1.25"/>
<line x1="789.25" y1="297.00" x2="789.25" y2="310.00" stroke="#222" stroke-width="1.15" />
<line x1="784.25" y1="297.00" x2="794.25" y2="297.00" stroke="#222" stroke-width="1.15" />
<line x1="784.25" y1="310.00" x2="794.25" y2="310.00" stroke="#222" stroke-width="1.15" />
<line x1="872.50" y1="305.50" x2="872.50" y2="316.50" stroke="#222" stroke-width="1.15" />
<line x1="867.50" y1="305.50" x2="877.50" y2="305.50" stroke="#222" stroke-width="1.15" />
<line x1="867.50" y1="316.50" x2="877.50" y2="316.50" stroke="#222" stroke-width="1.15" />
<line x1="1038.75" y1="312.30" x2="1038.75" y2="314.20" stroke="#222" stroke-width="1.15" />
<line x1="1033.75" y1="312.30" x2="1043.75" y2="312.30" stroke="#222" stroke-width="1.15" />
<line x1="1033.75" y1="314.20" x2="1043.75" y2="314.20" stroke="#222" stroke-width="1.15" />
<circle cx="789.25" cy="303.00" r="3.9" fill="#000"/>
<circle cx="872.50" cy="310.50" r="3.9" fill="#000"/>
<circle cx="955.75" cy="341.75" r="3.9" fill="#000"/>
<circle cx="1038.75" cy="313.25" r="3.9" fill="#000"/>
<path d="M789.25 166.25L872.50 189.00L955.75 222.50L1038.75 191.00" fill="none" stroke="#161616" stroke-width="1.25"/>
<line x1="789.25" y1="162.00" x2="789.25" y2="171.50" stroke="#222" stroke-width="1.15" />
<line x1="784.25" y1="162.00" x2="794.25" y2="162.00" stroke="#222" stroke-width="1.15" />
<line x1="784.25" y1="171.50" x2="794.25" y2="171.50" stroke="#222" stroke-width="1.15" />
<line x1="872.50" y1="180.00" x2="872.50" y2="198.50" stroke="#222" stroke-width="1.15" />
<line x1="867.50" y1="180.00" x2="877.50" y2="180.00" stroke="#222" stroke-width="1.15" />
<line x1="867.50" y1="198.50" x2="877.50" y2="198.50" stroke="#222" stroke-width="1.15" />
<line x1="955.75" y1="211.25" x2="955.75" y2="235.00" stroke="#222" stroke-width="1.15" />
<line x1="950.75" y1="211.25" x2="960.75" y2="211.25" stroke="#222" stroke-width="1.15" />
<line x1="950.75" y1="235.00" x2="960.75" y2="235.00" stroke="#222" stroke-width="1.15" />
<line x1="1038.75" y1="188.50" x2="1038.75" y2="193.75" stroke="#222" stroke-width="1.15" />
<line x1="1033.75" y1="188.50" x2="1043.75" y2="188.50" stroke="#222" stroke-width="1.15" />
<line x1="1033.75" y1="193.75" x2="1043.75" y2="193.75" stroke="#222" stroke-width="1.15" />
<circle cx="789.25" cy="166.25" r="3.3" fill="#fff" stroke="#111" stroke-width="1.15"/>
<circle cx="872.50" cy="189.00" r="3.3" fill="#fff" stroke="#111" stroke-width="1.15"/>
<circle cx="955.75" cy="222.50" r="3.3" fill="#fff" stroke="#111" stroke-width="1.15"/>
<circle cx="1038.75" cy="191.00" r="3.3" fill="#fff" stroke="#111" stroke-width="1.15"/>
<path d="M789.25 123.75L872.50 127.50L955.75 167.00L1038.75 135.00" fill="none" stroke="#161616" stroke-width="1.25"/>
<line x1="789.25" y1="100.25" x2="789.25" y2="147.00" stroke="#222" stroke-width="1.15" />
<line x1="784.25" y1="100.25" x2="794.25" y2="100.25" stroke="#222" stroke-width="1.15" />
<line x1="784.25" y1="147.00" x2="794.25" y2="147.00" stroke="#222" stroke-width="1.15" />
<line x1="872.50" y1="81.00" x2="872.50" y2="173.25" stroke="#222" stroke-width="1.15" />
<line x1="867.50" y1="81.00" x2="877.50" y2="81.00" stroke="#222" stroke-width="1.15" />
<line x1="867.50" y1="173.25" x2="877.50" y2="173.25" stroke="#222" stroke-width="1.15" />
<line x1="955.75" y1="162.50" x2="955.75" y2="172.00" stroke="#222" stroke-width="1.15" />
<line x1="950.75" y1="162.50" x2="960.75" y2="162.50" stroke="#222" stroke-width="1.15" />
<line x1="950.75" y1="172.00" x2="960.75" y2="172.00" stroke="#222" stroke-width="1.15" />
<line x1="1038.75" y1="125.50" x2="1038.75" y2="144.25" stroke="#222" stroke-width="1.15" />
<line x1="1033.75" y1="125.50" x2="1043.75" y2="125.50" stroke="#222" stroke-width="1.15" />
<line x1="1033.75" y1="144.25" x2="1043.75" y2="144.25" stroke="#222" stroke-width="1.15" />
<path d="M784.75 120.95L793.75 120.95L789.25 128.25Z" fill="#000"/>
<path d="M868.00 124.70L877.00 124.70L872.50 132.00Z" fill="#000"/>
<path d="M951.25 164.20L960.25 164.20L955.75 171.50Z" fill="#000"/>
<path d="M1034.25 132.20L1043.25 132.20L1038.75 139.50Z" fill="#000"/>
<line x1="1010.00" y1="47.00" x2="1056.25" y2="47.00" stroke="#1a1a1a" stroke-width="1.2" />
<circle cx="1033.12" cy="47.00" r="3.9" fill="#000"/>
<text x="1074.00" y="54.20" font-size="21" text-anchor="start" fill="#000" >WT</text>
<line x1="1010.00" y1="72.00" x2="1056.25" y2="72.00" stroke="#1a1a1a" stroke-width="1.2" />
<circle cx="1033.12" cy="72.00" r="3.3" fill="#fff" stroke="#111" stroke-width="1.15"/>
<text x="1067.50" y="79.20" font-size="21" text-anchor="start" fill="#000" letter-spacing="-1">OE-1</text>
<line x1="1010.00" y1="97.00" x2="1056.25" y2="97.00" stroke="#1a1a1a" stroke-width="1.2" />
<path d="M1028.62 94.20L1037.62 94.20L1033.12 101.50Z" fill="#000"/>
<text x="1067.50" y="104.20" font-size="21" text-anchor="start" fill="#000" letter-spacing="-1">OE-3</text>
<text x="632.00" y="198.50" font-size="22.7" font-weight="bold" text-anchor="middle" fill="#000" transform="rotate(-90 632.00 198.50)" >Fructose content of leaves</text>
<text x="659.50" y="195.60" font-size="22.7" font-weight="bold" text-anchor="middle" fill="#000" transform="rotate(-90 659.50 195.60)" word-spacing="3.5">(mg/g, FW)</text>
<text x="577.50" y="30.00" font-size="38" font-weight="bold" text-anchor="start" fill="#000" >B</text>
<rect x="131.40" y="470.00" width="402.80" height="315.75" fill="none" stroke="#3a3a3a" stroke-width="1.6"/>
<line x1="125.40" y1="785.75" x2="131.40" y2="785.75" stroke="#3a3a3a" stroke-width="1.3" />
<text x="114.00" y="793.18" font-size="23" text-anchor="end" fill="#000" >0</text>
<line x1="125.40" y1="733.12" x2="131.40" y2="733.12" stroke="#3a3a3a" stroke-width="1.3" />
<text x="114.00" y="740.56" font-size="23" text-anchor="end" fill="#000" >5</text>
<line x1="125.40" y1="680.50" x2="131.40" y2="680.50" stroke="#3a3a3a" stroke-width="1.3" />
<text x="114.00" y="687.93" font-size="23" text-anchor="end" fill="#000" >10</text>
<line x1="125.40" y1="627.88" x2="131.40" y2="627.88" stroke="#3a3a3a" stroke-width="1.3" />
<text x="114.00" y="635.31" font-size="23" text-anchor="end" fill="#000" >15</text>
<line x1="125.40" y1="575.25" x2="131.40" y2="575.25" stroke="#3a3a3a" stroke-width="1.3" />
<text x="114.00" y="582.68" font-size="23" text-anchor="end" fill="#000" >20</text>
<line x1="125.40" y1="522.62" x2="131.40" y2="522.62" stroke="#3a3a3a" stroke-width="1.3" />
<text x="114.00" y="530.06" font-size="23" text-anchor="end" fill="#000" >25</text>
<line x1="125.40" y1="470.00" x2="131.40" y2="470.00" stroke="#3a3a3a" stroke-width="1.3" />
<text x="114.00" y="477.43" font-size="23" text-anchor="end" fill="#000" >30</text>
<line x1="211.75" y1="785.75" x2="211.75" y2="791.75" stroke="#3a3a3a" stroke-width="1.3" />
<text x="211.75" y="823.75" font-size="23" font-weight="bold" text-anchor="middle" fill="#000" letter-spacing="-0.4">6:00</text>
<line x1="292.00" y1="785.75" x2="292.00" y2="791.75" stroke="#3a3a3a" stroke-width="1.3" />
<text x="292.00" y="823.75" font-size="23" font-weight="bold" text-anchor="middle" fill="#000" letter-spacing="-0.4">12:00</text>
<line x1="372.50" y1="785.75" x2="372.50" y2="791.75" stroke="#3a3a3a" stroke-width="1.3" />
<text x="372.50" y="823.75" font-size="23" font-weight="bold" text-anchor="middle" fill="#000" letter-spacing="-0.4">18:00</text>
<line x1="453.00" y1="785.75" x2="453.00" y2="791.75" stroke="#3a3a3a" stroke-width="1.3" />
<text x="453.00" y="823.75" font-size="23" font-weight="bold" text-anchor="middle" fill="#000" letter-spacing="-0.4">24:00</text>
<path d="M211.75 565.00L292.00 515.75L372.50 515.75L453.00 573.00" fill="none" stroke="#161616" stroke-width="1.25"/>
<line x1="211.75" y1="547.50" x2="211.75" y2="583.25" stroke="#222" stroke-width="1.15" />
<line x1="206.75" y1="547.50" x2="216.75" y2="547.50" stroke="#222" stroke-width="1.15" />
<line x1="206.75" y1="583.25" x2="216.75" y2="583.25" stroke="#222" stroke-width="1.15" />
<line x1="292.00" y1="491.25" x2="292.00" y2="541.00" stroke="#222" stroke-width="1.15" />
<line x1="287.00" y1="491.25" x2="297.00" y2="491.25" stroke="#222" stroke-width="1.15" />
<line x1="287.00" y1="541.00" x2="297.00" y2="541.00" stroke="#222" stroke-width="1.15" />
<line x1="372.50" y1="506.50" x2="372.50" y2="526.25" stroke="#222" stroke-width="1.15" />
<line x1="367.50" y1="506.50" x2="377.50" y2="506.50" stroke="#222" stroke-width="1.15" />
<line x1="367.50" y1="526.25" x2="377.50" y2="526.25" stroke="#222" stroke-width="1.15" />
<line x1="453.00" y1="569.25" x2="453.00" y2="577.75" stroke="#222" stroke-width="1.15" />
<line x1="448.00" y1="569.25" x2="458.00" y2="569.25" stroke="#222" stroke-width="1.15" />
<line x1="448.00" y1="577.75" x2="458.00" y2="577.75" stroke="#222" stroke-width="1.15" />
<circle cx="211.75" cy="565.00" r="3.9" fill="#000"/>
<circle cx="292.00" cy="515.75" r="3.9" fill="#000"/>
<circle cx="372.50" cy="515.75" r="3.9" fill="#000"/>
<circle cx="453.00" cy="573.00" r="3.9" fill="#000"/>
<path d="M211.75 709.25L292.00 705.75L372.50 679.75L453.00 706.25" fill="none" stroke="#161616" stroke-width="1.25"/>
<line x1="211.75" y1="705.75" x2="211.75" y2="712.50" stroke="#222" stroke-width="1.15" />
<line x1="206.75" y1="705.75" x2="216.75" y2="705.75" stroke="#222" stroke-width="1.15" />
<line x1="206.75" y1="712.50" x2="216.75" y2="712.50" stroke="#222" stroke-width="1.15" />
<line x1="292.00" y1="703.00" x2="292.00" y2="708.50" stroke="#222" stroke-width="1.15" />
<line x1="287.00" y1="703.00" x2="297.00" y2="703.00" stroke="#222" stroke-width="1.15" />
<line x1="287.00" y1="708.50" x2="297.00" y2="708.50" stroke="#222" stroke-width="1.15" />
<line x1="372.50" y1="677.80" x2="372.50" y2="681.80" stroke="#222" stroke-width="1.15" />
<line x1="367.50" y1="677.80" x2="377.50" y2="677.80" stroke="#222" stroke-width="1.15" />
<line x1="367.50" y1="681.80" x2="377.50" y2="681.80" stroke="#222" stroke-width="1.15" />
<line x1="453.00" y1="705.00" x2="453.00" y2="707.50" stroke="#222" stroke-width="1.15" />
<line x1="448.00" y1="705.00" x2="458.00" y2="705.00" stroke="#222" stroke-width="1.15" />
<line x1="448.00" y1="707.50" x2="458.00" y2="707.50" stroke="#222" stroke-width="1.15" />
<circle cx="211.75" cy="709.25" r="3.3" fill="#fff" stroke="#111" stroke-width="1.15"/>
<circle cx="292.00" cy="705.75" r="3.3" fill="#fff" stroke="#111" stroke-width="1.15"/>
<circle cx="372.50" cy="679.75" r="3.3" fill="#fff" stroke="#111" stroke-width="1.15"/>
<circle cx="453.00" cy="706.25" r="3.3" fill="#fff" stroke="#111" stroke-width="1.15"/>
<path d="M211.75 725.00L292.00 656.25L372.50 638.75L453.00 707.00" fill="none" stroke="#161616" stroke-width="1.25"/>
<line x1="211.75" y1="720.00" x2="211.75" y2="728.75" stroke="#222" stroke-width="1.15" />
<line x1="206.75" y1="720.00" x2="216.75" y2="720.00" stroke="#222" stroke-width="1.15" />
<line x1="206.75" y1="728.75" x2="216.75" y2="728.75" stroke="#222" stroke-width="1.15" />
<line x1="292.00" y1="647.50" x2="292.00" y2="665.25" stroke="#222" stroke-width="1.15" />
<line x1="287.00" y1="647.50" x2="297.00" y2="647.50" stroke="#222" stroke-width="1.15" />
<line x1="287.00" y1="665.25" x2="297.00" y2="665.25" stroke="#222" stroke-width="1.15" />
<line x1="372.50" y1="629.50" x2="372.50" y2="645.25" stroke="#222" stroke-width="1.15" />
<line x1="367.50" y1="629.50" x2="377.50" y2="629.50" stroke="#222" stroke-width="1.15" />
<line x1="367.50" y1="645.25" x2="377.50" y2="645.25" stroke="#222" stroke-width="1.15" />
<line x1="453.00" y1="705.50" x2="453.00" y2="708.50" stroke="#222" stroke-width="1.15" />
<line x1="448.00" y1="705.50" x2="458.00" y2="705.50" stroke="#222" stroke-width="1.15" />
<line x1="448.00" y1="708.50" x2="458.00" y2="708.50" stroke="#222" stroke-width="1.15" />
<path d="M207.25 722.20L216.25 722.20L211.75 729.50Z" fill="#000"/>
<path d="M287.50 653.45L296.50 653.45L292.00 660.75Z" fill="#000"/>
<path d="M368.00 635.95L377.00 635.95L372.50 643.25Z" fill="#000"/>
<path d="M448.50 704.20L457.50 704.20L453.00 711.50Z" fill="#000"/>
<line x1="416.00" y1="485.75" x2="462.50" y2="485.75" stroke="#1a1a1a" stroke-width="1.2" />
<circle cx="439.25" cy="485.75" r="3.9" fill="#000"/>
<text x="479.50" y="492.95" font-size="21" text-anchor="start" fill="#000" >WT</text>
<line x1="416.00" y1="509.50" x2="462.50" y2="509.50" stroke="#1a1a1a" stroke-width="1.2" />
<circle cx="439.25" cy="509.50" r="3.3" fill="#fff" stroke="#111" stroke-width="1.15"/>
<text x="479.50" y="516.70" font-size="21" text-anchor="start" fill="#000" letter-spacing="-1">OE-1</text>
<line x1="416.00" y1="534.50" x2="462.50" y2="534.50" stroke="#1a1a1a" stroke-width="1.2" />
<path d="M434.75 531.70L443.75 531.70L439.25 539.00Z" fill="#000"/>
<text x="479.50" y="541.70" font-size="21" text-anchor="start" fill="#000" letter-spacing="-1">OE-3</text>
<text x="45.90" y="630.70" font-size="22.4" font-weight="bold" text-anchor="middle" fill="#000" transform="rotate(-90 45.90 630.70)" >Sucrose content of leaves</text>
<text x="74.50" y="627.50" font-size="22.4" font-weight="bold" text-anchor="middle" fill="#000" transform="rotate(-90 74.50 627.50)" word-spacing="0">(mg/g, FW)</text>
<text x="0.40" y="446.50" font-size="38" font-weight="bold" text-anchor="start" fill="#000" >C</text>
<line x1="125.20" y1="1209.50" x2="131.20" y2="1209.50" stroke="#3a3a3a" stroke-width="1.3" />
<text x="117.30" y="1215.86" font-size="20" text-anchor="end" fill="#000" >0</text>
<line x1="125.20" y1="1147.26" x2="131.20" y2="1147.26" stroke="#3a3a3a" stroke-width="1.3" />
<text x="117.30" y="1153.62" font-size="20" text-anchor="end" fill="#000" >20</text>
<line x1="125.20" y1="1085.02" x2="131.20" y2="1085.02" stroke="#3a3a3a" stroke-width="1.3" />
<text x="117.30" y="1091.38" font-size="20" text-anchor="end" fill="#000" >40</text>
<line x1="125.20" y1="1022.78" x2="131.20" y2="1022.78" stroke="#3a3a3a" stroke-width="1.3" />
<text x="117.30" y="1029.14" font-size="20" text-anchor="end" fill="#000" >60</text>
<line x1="125.20" y1="960.54" x2="131.20" y2="960.54" stroke="#3a3a3a" stroke-width="1.3" />
<text x="117.30" y="966.90" font-size="20" text-anchor="end" fill="#000" >80</text>
<line x1="125.20" y1="898.30" x2="131.20" y2="898.30" stroke="#3a3a3a" stroke-width="1.3" />
<text x="117.30" y="904.66" font-size="20" text-anchor="end" fill="#000" >100</text>
<line x1="195.40" y1="1085.50" x2="195.40" y2="1091.20" stroke="#2a2a2a" stroke-width="1.15" />
<line x1="190.60" y1="1085.50" x2="200.20" y2="1085.50" stroke="#2a2a2a" stroke-width="1.15" />
<rect x="167.75" y="1091.20" width="55.30" height="118.30" fill="#800000" stroke="#1a0000" stroke-width="1.2" />
<text x="196.00" y="1072.40" font-size="22" font-weight="bold" text-anchor="middle" fill="#000" >c</text>
<line x1="195.40" y1="1209.50" x2="195.40" y2="1215.00" stroke="#3a3a3a" stroke-width="1.3" />
<line x1="287.60" y1="968.20" x2="287.60" y2="978.80" stroke="#2a2a2a" stroke-width="1.15" />
<line x1="282.80" y1="968.20" x2="292.40" y2="968.20" stroke="#2a2a2a" stroke-width="1.15" />
<rect x="259.95" y="978.80" width="55.30" height="230.70" fill="#008000" stroke="#001a00" stroke-width="1.2" />
<text x="286.00" y="955.40" font-size="22" font-weight="bold" text-anchor="middle" fill="#000" >a</text>
<line x1="287.60" y1="1209.50" x2="287.60" y2="1215.00" stroke="#3a3a3a" stroke-width="1.3" />
<line x1="380.10" y1="963.30" x2="380.10" y2="970.90" stroke="#2a2a2a" stroke-width="1.15" />
<line x1="375.30" y1="963.30" x2="384.90" y2="963.30" stroke="#2a2a2a" stroke-width="1.15" />
<rect x="352.45" y="970.90" width="55.30" height="238.60" fill="#4da94d" stroke="#1c301c" stroke-width="1.2" />
<text x="379.70" y="948.80" font-size="22" font-weight="bold" text-anchor="middle" fill="#000" >a</text>
<line x1="380.10" y1="1209.50" x2="380.10" y2="1215.00" stroke="#3a3a3a" stroke-width="1.3" />
<line x1="472.70" y1="997.50" x2="472.70" y2="1004.10" stroke="#2a2a2a" stroke-width="1.15" />
<line x1="467.90" y1="997.50" x2="477.50" y2="997.50" stroke="#2a2a2a" stroke-width="1.15" />
<rect x="445.05" y="1004.10" width="55.30" height="205.40" fill="#9dd09d" stroke="#647a64" stroke-width="1.2" />
<text x="472.40" y="985.10" font-size="22" font-weight="bold" text-anchor="middle" fill="#000" >b</text>
<line x1="472.70" y1="1209.50" x2="472.70" y2="1215.00" stroke="#3a3a3a" stroke-width="1.3" />
<rect x="131.20" y="898.30" width="406.70" height="311.20" fill="none" stroke="#3a3a3a" stroke-width="1.6"/>
<line x1="130.40" y1="1209.50" x2="538.70" y2="1209.50" stroke="#222" stroke-width="1.6" />
<text x="195.00" y="1244.70" font-size="22" font-weight="bold" text-anchor="middle" fill="#000" >WT</text>
<text x="286.70" y="1244.70" font-size="22" font-weight="bold" text-anchor="middle" fill="#000" letter-spacing="-0.8">OE-1</text>
<text x="380.00" y="1244.70" font-size="22" font-weight="bold" text-anchor="middle" fill="#000" letter-spacing="-0.6">OE-3</text>
<text x="472.30" y="1244.70" font-size="22" font-weight="bold" text-anchor="middle" fill="#000" letter-spacing="-0.3">OE-23</text>
<text x="46.00" y="1053.80" font-size="21.9" font-weight="bold" text-anchor="middle" fill="#000" transform="rotate(-90 46.00 1053.80)" >Cell wall invertase activity of</text>
<text x="78.90" y="1051.30" font-size="21.9" font-weight="bold" text-anchor="middle" fill="#000" transform="rotate(-90 78.90 1051.30)" >leaves (µmol g<tspan dy="-7">-1</tspan><tspan dy="7">h</tspan><tspan dy="-7">-1</tspan><tspan dy="7">, FW)</tspan></text>
<text x="-0.50" y="870.00" font-size="38" font-weight="bold" text-anchor="start" fill="#000" >E</text>
<line x1="704.70" y1="1210.80" x2="710.70" y2="1210.80" stroke="#3a3a3a" stroke-width="1.3" />
<text x="695.70" y="1217.52" font-size="21" text-anchor="end" fill="#000" >0</text>
<line x1="704.70" y1="1166.25" x2="710.70" y2="1166.25" stroke="#3a3a3a" stroke-width="1.3" />
<text x="695.70" y="1172.97" font-size="21" text-anchor="end" fill="#000" >5</text>
<line x1="704.70" y1="1121.71" x2="710.70" y2="1121.71" stroke="#3a3a3a" stroke-width="1.3" />
<text x="695.70" y="1128.43" font-size="21" text-anchor="end" fill="#000" >10</text>
<line x1="704.70" y1="1077.16" x2="710.70" y2="1077.16" stroke="#3a3a3a" stroke-width="1.3" />
<text x="695.70" y="1083.88" font-size="21" text-anchor="end" fill="#000" >15</text>
<line x1="704.70" y1="1032.62" x2="710.70" y2="1032.62" stroke="#3a3a3a" stroke-width="1.3" />
<text x="695.70" y="1039.34" font-size="21" text-anchor="end" fill="#000" >20</text>
<line x1="704.70" y1="988.07" x2="710.70" y2="988.07" stroke="#3a3a3a" stroke-width="1.3" />
<text x="695.70" y="994.79" font-size="21" text-anchor="end" fill="#000" >25</text>
<line x1="704.70" y1="943.53" x2="710.70" y2="943.53" stroke="#3a3a3a" stroke-width="1.3" />
<text x="695.70" y="950.25" font-size="21" text-anchor="end" fill="#000" >30</text>
<line x1="704.70" y1="898.98" x2="710.70" y2="898.98" stroke="#3a3a3a" stroke-width="1.3" />
<text x="695.70" y="905.70" font-size="21" text-anchor="end" fill="#000" >35</text>
<line x1="776.00" y1="988.00" x2="776.00" y2="1008.80" stroke="#2a2a2a" stroke-width="1.15" />
<line x1="771.20" y1="988.00" x2="780.80" y2="988.00" stroke="#2a2a2a" stroke-width="1.15" />
<rect x="747.50" y="1008.80" width="57.00" height="202.00" fill="#800000" stroke="#1a0000" stroke-width="1.2" />
<text x="776.00" y="978.40" font-size="22.8" font-weight="bold" text-anchor="middle" fill="#000" >a</text>
<line x1="776.00" y1="1210.80" x2="776.00" y2="1216.30" stroke="#3a3a3a" stroke-width="1.3" />
<line x1="869.60" y1="951.10" x2="869.60" y2="986.00" stroke="#2a2a2a" stroke-width="1.15" />
<line x1="864.80" y1="951.10" x2="874.40" y2="951.10" stroke="#2a2a2a" stroke-width="1.15" />
<rect x="841.10" y="986.00" width="57.00" height="224.80" fill="#008000" stroke="#001a00" stroke-width="1.2" />
<text x="868.30" y="937.90" font-size="22.8" font-weight="bold" text-anchor="middle" fill="#000" >a</text>
<line x1="869.60" y1="1210.80" x2="869.60" y2="1216.30" stroke="#3a3a3a" stroke-width="1.3" />
<line x1="963.40" y1="990.60" x2="963.40" y2="1015.30" stroke="#2a2a2a" stroke-width="1.15" />
<line x1="958.60" y1="990.60" x2="968.20" y2="990.60" stroke="#2a2a2a" stroke-width="1.15" />
<rect x="934.90" y="1015.30" width="57.00" height="195.50" fill="#4da94d" stroke="#1c301c" stroke-width="1.2" />
<text x="964.50" y="980.00" font-size="22.8" font-weight="bold" text-anchor="middle" fill="#000" >a</text>
<line x1="963.40" y1="1210.80" x2="963.40" y2="1216.30" stroke="#3a3a3a" stroke-width="1.3" />
<line x1="1057.30" y1="952.40" x2="1057.30" y2="979.10" stroke="#2a2a2a" stroke-width="1.15" />
<line x1="1052.50" y1="952.40" x2="1062.10" y2="952.40" stroke="#2a2a2a" stroke-width="1.15" />
<rect x="1028.80" y="979.10" width="57.00" height="231.70" fill="#9dd09d" stroke="#647a64" stroke-width="1.2" />
<text x="1058.50" y="939.50" font-size="22.8" font-weight="bold" text-anchor="middle" fill="#000" >a</text>
<line x1="1057.30" y1="1210.80" x2="1057.30" y2="1216.30" stroke="#3a3a3a" stroke-width="1.3" />
<rect x="710.70" y="899.00" width="412.00" height="311.80" fill="none" stroke="#3a3a3a" stroke-width="1.6"/>
<line x1="709.90" y1="1210.80" x2="1123.50" y2="1210.80" stroke="#222" stroke-width="1.6" />
<text x="776.00" y="1248.00" font-size="22.8" font-weight="bold" text-anchor="middle" fill="#000" >WT</text>
<text x="869.30" y="1248.00" font-size="22.8" font-weight="bold" text-anchor="middle" fill="#000" letter-spacing="-0.8">OE-1</text>
<text x="963.90" y="1248.00" font-size="22.8" font-weight="bold" text-anchor="middle" fill="#000" letter-spacing="-0.6">OE-3</text>
<text x="1057.80" y="1248.00" font-size="22.8" font-weight="bold" text-anchor="middle" fill="#000" letter-spacing="-0.3">OE-23</text>
<text x="619.30" y="1058.00" font-size="22.8" font-weight="bold" text-anchor="middle" fill="#000" transform="rotate(-90 619.30 1058.00)" >Vacuolar invertase activity of</text>
<text x="653.00" y="1055.50" font-size="22.8" font-weight="bold" text-anchor="middle" fill="#000" transform="rotate(-90 653.00 1055.50)" >leaves (µmol g<tspan dy="-7">-1</tspan><tspan dy="7">h</tspan><tspan dy="-7">-1</tspan><tspan dy="7">, FW)</tspan></text>
<text x="578.50" y="870.00" font-size="38" font-weight="bold" text-anchor="start" fill="#000" >F</text>
<line x1="1256.20" y1="1211.50" x2="1262.20" y2="1211.50" stroke="#3a3a3a" stroke-width="1.3" />
<text x="1248.00" y="1217.86" font-size="20" text-anchor="end" fill="#000" >0</text>
<line x1="1256.20" y1="1133.45" x2="1262.20" y2="1133.45" stroke="#3a3a3a" stroke-width="1.3" />
<text x="1248.00" y="1139.81" font-size="20" text-anchor="end" fill="#000" >5</text>
<line x1="1256.20" y1="1055.40" x2="1262.20" y2="1055.40" stroke="#3a3a3a" stroke-width="1.3" />
<text x="1248.00" y="1061.76" font-size="20" text-anchor="end" fill="#000" >10</text>
<line x1="1256.20" y1="977.35" x2="1262.20" y2="977.35" stroke="#3a3a3a" stroke-width="1.3" />
<text x="1248.00" y="983.71" font-size="20" text-anchor="end" fill="#000" >15</text>
<line x1="1256.20" y1="899.30" x2="1262.20" y2="899.30" stroke="#3a3a3a" stroke-width="1.3" />
<text x="1248.00" y="905.66" font-size="20" text-anchor="end" fill="#000" >20</text>
<line x1="1327.10" y1="995.90" x2="1327.10" y2="1012.70" stroke="#2a2a2a" stroke-width="1.15" />
<line x1="1322.30" y1="995.90" x2="1331.90" y2="995.90" stroke="#2a2a2a" stroke-width="1.15" />
<rect x="1299.35" y="1012.70" width="55.50" height="198.80" fill="#800000" stroke="#1a0000" stroke-width="1.2" />
<text x="1327.80" y="985.00" font-size="22" font-weight="bold" text-anchor="middle" fill="#000" >a</text>
<line x1="1327.10" y1="1211.50" x2="1327.10" y2="1217.00" stroke="#3a3a3a" stroke-width="1.3" />
<line x1="1418.70" y1="968.20" x2="1418.70" y2="1007.10" stroke="#2a2a2a" stroke-width="1.15" />
<line x1="1413.90" y1="968.20" x2="1423.50" y2="968.20" stroke="#2a2a2a" stroke-width="1.15" />
<rect x="1390.95" y="1007.10" width="55.50" height="204.40" fill="#008000" stroke="#001a00" stroke-width="1.2" />
<text x="1417.70" y="950.40" font-size="22" font-weight="bold" text-anchor="middle" fill="#000" >a</text>
<line x1="1418.70" y1="1211.50" x2="1418.70" y2="1217.00" stroke="#3a3a3a" stroke-width="1.3" />
<line x1="1510.50" y1="980.40" x2="1510.50" y2="994.90" stroke="#2a2a2a" stroke-width="1.15" />
<line x1="1505.70" y1="980.40" x2="1515.30" y2="980.40" stroke="#2a2a2a" stroke-width="1.15" />
<rect x="1482.75" y="994.90" width="55.50" height="216.60" fill="#4da94d" stroke="#1c301c" stroke-width="1.2" />
<text x="1510.00" y="958.00" font-size="22" font-weight="bold" text-anchor="middle" fill="#000" >a</text>
<line x1="1510.50" y1="1211.50" x2="1510.50" y2="1217.00" stroke="#3a3a3a" stroke-width="1.3" />
<line x1="1602.60" y1="973.20" x2="1602.60" y2="1000.50" stroke="#2a2a2a" stroke-width="1.15" />
<line x1="1597.80" y1="973.20" x2="1607.40" y2="973.20" stroke="#2a2a2a" stroke-width="1.15" />
<rect x="1574.85" y="1000.50" width="55.50" height="211.00" fill="#9dd09d" stroke="#647a64" stroke-width="1.2" />
<text x="1602.00" y="951.00" font-size="22" font-weight="bold" text-anchor="middle" fill="#000" >a</text>
<line x1="1602.60" y1="1211.50" x2="1602.60" y2="1217.00" stroke="#3a3a3a" stroke-width="1.3" />
<rect x="1262.20" y="899.30" width="405.00" height="312.20" fill="none" stroke="#3a3a3a" stroke-width="1.6"/>
<line x1="1261.40" y1="1211.50" x2="1668.00" y2="1211.50" stroke="#222" stroke-width="1.6" />
<text x="1326.80" y="1248.00" font-size="22" font-weight="bold" text-anchor="middle" fill="#000" >WT</text>
<text x="1417.70" y="1248.00" font-size="22" font-weight="bold" text-anchor="middle" fill="#000" letter-spacing="-0.8">OE-1</text>
<text x="1510.70" y="1248.00" font-size="22" font-weight="bold" text-anchor="middle" fill="#000" letter-spacing="-0.6">OE-3</text>
<text x="1602.30" y="1248.00" font-size="22" font-weight="bold" text-anchor="middle" fill="#000" letter-spacing="-0.3">OE-23</text>
<text x="1183.50" y="1055.80" font-size="22.1" font-weight="bold" text-anchor="middle" fill="#000" transform="rotate(-90 1183.50 1055.80)" >Cytosolic invertase activity of</text>
<text x="1217.00" y="1051.30" font-size="22.1" font-weight="bold" text-anchor="middle" fill="#000" transform="rotate(-90 1217.00 1051.30)" >leaves (µmol g<tspan dy="-7">-1</tspan><tspan dy="7">h</tspan><tspan dy="-7">-1</tspan><tspan dy="7">, FW)</tspan></text>
<text x="1143.00" y="870.00" font-size="38" font-weight="bold" text-anchor="start" fill="#000" >G</text>
<line x1="1817.50" y1="1209.20" x2="1823.50" y2="1209.20" stroke="#3a3a3a" stroke-width="1.3" />
<text x="1808.80" y="1216.63" font-size="23" text-anchor="end" fill="#000" >0.0</text>
<line x1="1817.50" y1="1164.95" x2="1823.50" y2="1164.95" stroke="#3a3a3a" stroke-width="1.3" />
<text x="1808.80" y="1172.38" font-size="23" text-anchor="end" fill="#000" >0.5</text>
<line x1="1817.50" y1="1120.70" x2="1823.50" y2="1120.70" stroke="#3a3a3a" stroke-width="1.3" />
<text x="1808.80" y="1128.13" font-size="23" text-anchor="end" fill="#000" >1.0</text>
<line x1="1817.50" y1="1076.45" x2="1823.50" y2="1076.45" stroke="#3a3a3a" stroke-width="1.3" />
<text x="1808.80" y="1083.88" font-size="23" text-anchor="end" fill="#000" >1.5</text>
<line x1="1817.50" y1="1032.20" x2="1823.50" y2="1032.20" stroke="#3a3a3a" stroke-width="1.3" />
<text x="1808.80" y="1039.63" font-size="23" text-anchor="end" fill="#000" >2.0</text>
<line x1="1817.50" y1="987.95" x2="1823.50" y2="987.95" stroke="#3a3a3a" stroke-width="1.3" />
<text x="1808.80" y="995.38" font-size="23" text-anchor="end" fill="#000" >2.5</text>
<line x1="1817.50" y1="943.70" x2="1823.50" y2="943.70" stroke="#3a3a3a" stroke-width="1.3" />
<text x="1808.80" y="951.13" font-size="23" text-anchor="end" fill="#000" >3.0</text>
<line x1="1817.50" y1="899.45" x2="1823.50" y2="899.45" stroke="#3a3a3a" stroke-width="1.3" />
<text x="1808.80" y="906.88" font-size="23" text-anchor="end" fill="#000" >3.5</text>
<line x1="1884.80" y1="1093.80" x2="1884.80" y2="1098.40" stroke="#2a2a2a" stroke-width="1.15" />
<line x1="1880.00" y1="1093.80" x2="1889.60" y2="1093.80" stroke="#2a2a2a" stroke-width="1.15" />
<rect x="1858.80" y="1098.40" width="52.00" height="110.80" fill="#800000" stroke="#1a0000" stroke-width="1.2" />
<text x="1884.50" y="1082.30" font-size="22" font-weight="bold" text-anchor="middle" fill="#000" >a</text>
<line x1="1884.80" y1="1209.20" x2="1884.80" y2="1214.70" stroke="#3a3a3a" stroke-width="1.3" />
<line x1="1971.50" y1="1071.70" x2="1971.50" y2="1076.70" stroke="#2a2a2a" stroke-width="1.15" />
<line x1="1966.70" y1="1071.70" x2="1976.30" y2="1071.70" stroke="#2a2a2a" stroke-width="1.15" />
<rect x="1945.50" y="1076.70" width="52.00" height="132.50" fill="#008000" stroke="#001a00" stroke-width="1.2" />
<text x="1972.80" y="1061.50" font-size="22" font-weight="bold" text-anchor="middle" fill="#000" >b</text>
<line x1="1971.50" y1="1209.20" x2="1971.50" y2="1214.70" stroke="#3a3a3a" stroke-width="1.3" />
<line x1="2058.70" y1="952.40" x2="2058.70" y2="958.00" stroke="#2a2a2a" stroke-width="1.15" />
<line x1="2053.90" y1="952.40" x2="2063.50" y2="952.40" stroke="#2a2a2a" stroke-width="1.15" />
<rect x="2032.70" y="958.00" width="52.00" height="251.20" fill="#4da94d" stroke="#1c301c" stroke-width="1.2" />
<text x="2056.50" y="939.90" font-size="22" font-weight="bold" text-anchor="middle" fill="#000" >c</text>
<line x1="2058.70" y1="1209.20" x2="2058.70" y2="1214.70" stroke="#3a3a3a" stroke-width="1.3" />
<line x1="2145.50" y1="1029.20" x2="2145.50" y2="1038.40" stroke="#2a2a2a" stroke-width="1.15" />
<line x1="2140.70" y1="1029.20" x2="2150.30" y2="1029.20" stroke="#2a2a2a" stroke-width="1.15" />
<rect x="2119.50" y="1038.40" width="52.00" height="170.80" fill="#9dd09d" stroke="#647a64" stroke-width="1.2" />
<text x="2142.50" y="1015.70" font-size="22" font-weight="bold" text-anchor="middle" fill="#000" >d</text>
<line x1="2145.50" y1="1209.20" x2="2145.50" y2="1214.70" stroke="#3a3a3a" stroke-width="1.3" />
<rect x="1823.50" y="899.30" width="382.30" height="309.90" fill="none" stroke="#3a3a3a" stroke-width="1.6"/>
<line x1="1822.70" y1="1209.20" x2="2206.60" y2="1209.20" stroke="#222" stroke-width="1.6" />
<text x="1884.80" y="1247.60" font-size="22.5" font-weight="bold" text-anchor="middle" fill="#000" >WT</text>
<text x="1971.20" y="1247.60" font-size="22.5" font-weight="bold" text-anchor="middle" fill="#000" letter-spacing="-0.8">OE-1</text>
<text x="2058.20" y="1247.60" font-size="22.5" font-weight="bold" text-anchor="middle" fill="#000" letter-spacing="-0.6">OE-3</text>
<text x="2144.90" y="1247.60" font-size="22.5" font-weight="bold" text-anchor="middle" fill="#000" letter-spacing="-0.3">OE-23</text>
<text x="1731.80" y="1054.50" font-size="25.6" font-weight="bold" text-anchor="middle" fill="#000" transform="rotate(-90 1731.80 1054.50)" >Starch content of leaves</text>
<text x="1762.00" y="1044.00" font-size="25.6" font-weight="bold" text-anchor="middle" fill="#000" transform="rotate(-90 1762.00 1044.00)" >( %, FW)</text>
<text x="1710.00" y="870.00" font-size="38" font-weight="bold" text-anchor="start" fill="#000" >I</text>
<line x1="697.30" y1="471.50" x2="703.30" y2="471.50" stroke="#3a3a3a" stroke-width="1.3" />
<text x="689.00" y="477.86" font-size="20" text-anchor="end" fill="#000" >600</text>
<line x1="697.30" y1="505.10" x2="703.30" y2="505.10" stroke="#3a3a3a" stroke-width="1.3" />
<text x="689.00" y="511.46" font-size="20" text-anchor="end" fill="#000" >500</text>
<line x1="697.30" y1="538.80" x2="703.30" y2="538.80" stroke="#3a3a3a" stroke-width="1.3" />
<text x="689.00" y="545.16" font-size="20" text-anchor="end" fill="#000" >400</text>
<line x1="697.30" y1="572.40" x2="703.30" y2="572.40" stroke="#3a3a3a" stroke-width="1.3" />
<text x="689.00" y="578.76" font-size="20" text-anchor="end" fill="#000" >300</text>
<line x1="697.30" y1="605.70" x2="703.30" y2="605.70" stroke="#3a3a3a" stroke-width="1.3" />
<text x="689.00" y="612.06" font-size="20" text-anchor="end" fill="#000" >200</text>
<line x1="697.30" y1="654.40" x2="703.30" y2="654.40" stroke="#3a3a3a" stroke-width="1.3" />
<text x="689.00" y="660.76" font-size="20" text-anchor="end" fill="#000" >30</text>
<line x1="697.30" y1="697.70" x2="703.30" y2="697.70" stroke="#3a3a3a" stroke-width="1.3" />
<text x="689.00" y="704.06" font-size="20" text-anchor="end" fill="#000" >20</text>
<line x1="697.30" y1="741.00" x2="703.30" y2="741.00" stroke="#3a3a3a" stroke-width="1.3" />
<text x="689.00" y="747.36" font-size="20" text-anchor="end" fill="#000" >10</text>
<line x1="697.30" y1="783.50" x2="703.30" y2="783.50" stroke="#3a3a3a" stroke-width="1.3" />
<text x="689.00" y="789.86" font-size="20" text-anchor="end" fill="#000" >0</text>
<rect x="762.05" y="779.70" width="50.50" height="3.80" fill="#800000" stroke="#1a0000" stroke-width="1.4" />
<line x1="870.90" y1="521.60" x2="870.90" y2="526.75" stroke="#222" stroke-width="1.3" />
<line x1="866.40" y1="521.60" x2="875.40" y2="521.60" stroke="#222" stroke-width="1.3" />
<rect x="845.65" y="526.75" width="50.50" height="256.75" fill="#008000" stroke="#001a00" stroke-width="1.4" />
<line x1="954.80" y1="609.00" x2="954.80" y2="616.00" stroke="#222" stroke-width="1.3" />
<line x1="950.30" y1="609.00" x2="959.30" y2="609.00" stroke="#222" stroke-width="1.3" />
<rect x="929.55" y="616.00" width="50.50" height="167.50" fill="#4da94d" stroke="#1c301c" stroke-width="1.4" />
<line x1="1033.70" y1="680.90" x2="1042.70" y2="680.90" stroke="#222" stroke-width="1.3" />
<rect x="1012.95" y="682.20" width="50.50" height="101.30" fill="#9dd09d" stroke="#647a64" stroke-width="1.4" />
<rect x="843.65" y="623.30" width="54.50" height="8.90" fill="#fff" />
<rect x="927.55" y="623.30" width="54.50" height="8.90" fill="#fff" />
<line x1="844.95" y1="622.70" x2="896.85" y2="622.70" stroke="#001a00" stroke-width="1.3" />
<line x1="844.95" y1="632.90" x2="896.85" y2="632.90" stroke="#001a00" stroke-width="1.3" />
<line x1="928.85" y1="622.70" x2="980.75" y2="622.70" stroke="#1c301c" stroke-width="1.3" />
<line x1="928.85" y1="632.90" x2="980.75" y2="632.90" stroke="#1c301c" stroke-width="1.3" />
<line x1="703.30" y1="471.50" x2="703.30" y2="622.50" stroke="#3a3a3a" stroke-width="1.6" />
<line x1="703.30" y1="633.00" x2="703.30" y2="783.50" stroke="#3a3a3a" stroke-width="1.6" />
<line x1="1122.00" y1="471.50" x2="1122.00" y2="622.50" stroke="#3a3a3a" stroke-width="1.6" />
<line x1="1122.00" y1="633.00" x2="1122.00" y2="783.50" stroke="#3a3a3a" stroke-width="1.6" />
<line x1="702.50" y1="471.50" x2="1122.80" y2="471.50" stroke="#3a3a3a" stroke-width="1.6" />
<line x1="702.50" y1="783.50" x2="1122.80" y2="783.50" stroke="#3a3a3a" stroke-width="1.6" />
<line x1="695.00" y1="630.90" x2="711.80" y2="614.70" stroke="#777" stroke-width="1" />
<line x1="695.00" y1="641.30" x2="711.80" y2="625.10" stroke="#777" stroke-width="1" />
<line x1="1113.70" y1="630.90" x2="1130.50" y2="614.70" stroke="#777" stroke-width="1" />
<line x1="1113.70" y1="641.30" x2="1130.50" y2="625.10" stroke="#777" stroke-width="1" />
<line x1="787.30" y1="783.50" x2="787.30" y2="789.50" stroke="#3a3a3a" stroke-width="1.3" />
<line x1="870.90" y1="783.50" x2="870.90" y2="789.50" stroke="#3a3a3a" stroke-width="1.3" />
<line x1="954.80" y1="783.50" x2="954.80" y2="789.50" stroke="#3a3a3a" stroke-width="1.3" />
<line x1="1038.20" y1="783.50" x2="1038.20" y2="789.50" stroke="#3a3a3a" stroke-width="1.3" />
<text x="795.50" y="763.30" font-size="22" font-weight="bold" text-anchor="middle" fill="#000" >c</text>
<text x="870.70" y="512.00" font-size="22" font-weight="bold" text-anchor="middle" fill="#000" >a</text>
<text x="954.40" y="596.10" font-size="22" font-weight="bold" text-anchor="middle" fill="#000" >b</text>
<text x="1037.20" y="667.80" font-size="22" font-weight="bold" text-anchor="middle" fill="#000" >c</text>
<text x="787.00" y="819.90" font-size="22" font-weight="bold" text-anchor="middle" fill="#000" >WT</text>
<text x="870.30" y="819.90" font-size="22" font-weight="bold" text-anchor="middle" fill="#000" letter-spacing="-0.8">OE-1</text>
<text x="954.40" y="819.90" font-size="22" font-weight="bold" text-anchor="middle" fill="#000" letter-spacing="-0.6">OE-3</text>
<text x="1038.20" y="819.90" font-size="22" font-weight="bold" text-anchor="middle" fill="#000" letter-spacing="-0.3">OE-23</text>
<text x="643.80" y="622.40" font-size="21.8" font-weight="bold" text-anchor="middle" fill="#000" transform="rotate(-90 643.80 622.40)" >Relative expression level</text>
<text x="577.50" y="446.30" font-size="38" font-weight="bold" text-anchor="start" fill="#000" >D</text>
<text x="1141.00" y="31.00" font-size="38" font-weight="bold" text-anchor="start" fill="#000" >H</text>
</svg>
</body></html>
